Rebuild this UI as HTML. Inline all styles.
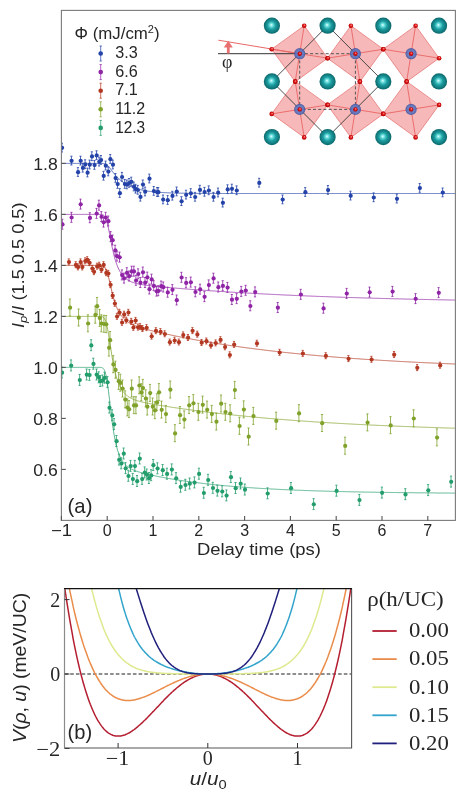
<!DOCTYPE html><html><head><meta charset="utf-8"><style>html,body{margin:0;padding:0;background:#fff;width:462px;height:797px;overflow:hidden;position:relative}</style></head><body><svg width="462" height="797" viewBox="0 0 462 797" style="position:absolute;left:0;top:0;will-change:transform"><defs><clipPath id="ca"><rect x="61.4" y="10.4" width="394" height="510"/></clipPath><clipPath id="cb"><rect x="64.5" y="588.6" width="287.1" height="159.4"/></clipPath><radialGradient id="tg" cx="0.5" cy="0.5" r="0.5" fx="0.46" fy="0.45"><stop offset="0" stop-color="#e8ffff"/><stop offset="0.2" stop-color="#6fe0e0"/><stop offset="0.5" stop-color="#1d9fa2"/><stop offset="1" stop-color="#0b676b"/></radialGradient><radialGradient id="og" cx="0.5" cy="0.5" r="0.5" fx="0.6" fy="0.35"><stop offset="0" stop-color="#ff9a9a"/><stop offset="0.5" stop-color="#e01818"/><stop offset="1" stop-color="#b00000"/></radialGradient><radialGradient id="bg" cx="0.5" cy="0.5" r="0.5"><stop offset="0" stop-color="#6a86d0"/><stop offset="0.7" stop-color="#5470bf"/><stop offset="1" stop-color="#3e509a"/></radialGradient></defs><g clip-path="url(#ca)"><polyline points="61.4,163.4 61.9,163.4 62.3,163.4 62.8,163.4 63.2,163.4 63.7,163.4 64.1,163.4 64.6,163.4 65.1,163.4 65.5,163.4 66.0,163.4 66.4,163.4 66.9,163.4 67.4,163.4 67.8,163.4 68.3,163.4 68.7,163.4 69.2,163.4 69.6,163.4 70.1,163.4 70.6,163.4 71.0,163.4 71.5,163.4 71.9,163.4 72.4,163.4 72.8,163.4 73.3,163.4 73.8,163.4 74.2,163.4 74.7,163.4 75.1,163.4 75.6,163.4 76.1,163.4 76.5,163.4 77.0,163.4 77.4,163.4 77.9,163.4 78.3,163.4 78.8,163.4 79.3,163.4 79.7,163.4 80.2,163.4 80.6,163.4 81.1,163.4 81.6,163.4 82.0,163.4 82.5,163.4 82.9,163.4 83.4,163.4 83.8,163.4 84.3,163.4 84.8,163.4 85.2,163.4 85.7,163.4 86.1,163.4 86.6,163.4 87.0,163.4 87.5,163.4 88.0,163.4 88.4,163.4 88.9,163.4 89.3,163.4 89.8,163.4 90.3,163.4 90.7,163.4 91.2,163.4 91.6,163.4 92.1,163.4 92.5,163.4 93.0,163.4 93.5,163.4 93.9,163.4 94.4,163.4 94.8,163.4 95.3,163.4 95.8,163.4 96.2,163.4 96.7,163.4 97.1,163.4 97.6,163.4 98.0,163.4 98.5,163.4 99.0,163.4 99.4,163.4 99.9,163.4 100.3,163.4 100.8,163.4 101.2,163.4 101.7,163.4 102.2,163.4 102.6,163.5 103.1,163.5 103.5,163.6 104.0,163.7 104.5,163.8 104.9,163.9 105.4,164.1 105.8,164.3 106.3,164.6 106.7,164.9 107.2,165.2 107.7,165.6 108.1,166.1 108.6,166.5 109.0,167.1 109.5,167.6 109.9,168.2 110.4,168.8 110.9,169.4 111.3,170.0 111.8,170.6 112.2,171.3 112.7,171.9 113.2,172.5 113.6,173.0 114.1,173.6 114.5,174.2 115.0,174.7 115.4,175.3 115.9,175.8 116.4,176.3 116.8,176.8 117.3,177.2 117.7,177.7 118.2,178.1 118.7,178.6 119.1,179.0 119.6,179.4 120.0,179.8 120.5,180.2 120.9,180.5 121.4,180.9 121.9,181.3 122.3,181.6 122.8,181.9 123.2,182.3 123.7,182.6 124.1,182.9 124.6,183.2 125.1,183.5 125.5,183.8 126.0,184.0 126.4,184.3 126.9,184.6 127.4,184.8 127.8,185.1 128.3,185.3 128.7,185.5 129.2,185.8 129.6,186.0 130.1,186.2 130.6,186.4 131.0,186.6 131.5,186.8 131.9,187.0 132.4,187.2 132.8,187.3 133.3,187.5 133.8,187.7 134.2,187.8 134.7,188.0 135.1,188.2 135.6,188.3 136.1,188.4 136.5,188.6 137.0,188.7 137.4,188.9 137.9,189.0 138.3,189.1 138.8,189.2 139.3,189.4 139.7,189.5 140.2,189.6 140.6,189.7 141.1,189.8 141.5,189.9 142.0,190.0 142.5,190.1 142.9,190.2 143.4,190.3 143.8,190.4 144.3,190.5 144.8,190.6 145.2,190.6 145.7,190.7 146.1,190.8 146.6,190.9 147.0,191.0 147.5,191.0 148.0,191.1 148.4,191.2 148.9,191.2 149.3,191.3 149.8,191.4 150.3,191.4 150.7,191.5 151.2,191.5 151.6,191.6 152.1,191.6 152.5,191.7 153.0,191.7 153.5,191.8 153.9,191.8 154.4,191.9 154.8,191.9 155.3,192.0 155.7,192.0 156.2,192.1 156.7,192.1 157.1,192.1 157.6,192.2 158.0,192.2 158.5,192.2 159.0,192.3 159.4,192.3 159.9,192.3 160.3,192.4 160.8,192.4 161.2,192.4 161.7,192.5 162.2,192.5 162.6,192.5 163.1,192.6 163.5,192.6 164.0,192.6 164.4,192.6 164.9,192.7 165.4,192.7 165.8,192.7 166.3,192.7 166.7,192.7 167.2,192.8 167.7,192.8 168.1,192.8 168.6,192.8 169.0,192.8 169.5,192.9 169.9,192.9 170.4,192.9 170.9,192.9 171.3,192.9 171.8,192.9 172.2,193.0 172.7,193.0 173.2,193.0 173.6,193.0 174.1,193.0 174.5,193.0 175.0,193.0 175.4,193.1 175.9,193.1 176.4,193.1 176.8,193.1 177.3,193.1 177.7,193.1 178.2,193.1 178.6,193.1 179.1,193.1 179.6,193.2 180.0,193.2 180.5,193.2 180.9,193.2 181.4,193.2 181.9,193.2 182.3,193.2 182.8,193.2 183.2,193.2 183.7,193.2 184.1,193.2 184.6,193.2 185.1,193.3 185.5,193.3 186.0,193.3 186.4,193.3 186.9,193.3 187.3,193.3 187.8,193.3 188.3,193.3 188.7,193.3 189.2,193.3 189.6,193.3 190.1,193.3 190.6,193.3 191.0,193.3 191.5,193.3 191.9,193.3 192.4,193.3 192.8,193.3 193.3,193.3 193.8,193.4 194.2,193.4 194.7,193.4 195.1,193.4 195.6,193.4 196.1,193.4 196.5,193.4 197.0,193.4 197.4,193.4 197.9,193.4 198.3,193.4 198.8,193.4 199.3,193.4 199.7,193.4 200.2,193.4 200.6,193.4 201.1,193.4 201.5,193.4 202.0,193.4 202.5,193.4 202.9,193.4 203.4,193.4 203.8,193.4 204.3,193.4 204.8,193.4 205.2,193.4 205.7,193.4 206.1,193.4 206.6,193.4 207.0,193.4 207.5,193.4 208.0,193.4 208.4,193.4 208.9,193.4 209.3,193.4 209.8,193.4 210.2,193.4 210.7,193.4 211.2,193.4 211.6,193.4 212.1,193.4 212.5,193.4 213.0,193.4 213.5,193.4 213.9,193.5 214.4,193.5 214.8,193.5 215.3,193.5 215.7,193.5 216.2,193.5 216.7,193.5 217.1,193.5 217.6,193.5 218.0,193.5 218.5,193.5 219.0,193.5 219.4,193.5 219.9,193.5 220.3,193.5 220.8,193.5 221.2,193.5 221.7,193.5 222.2,193.5 222.6,193.5 223.1,193.5 223.5,193.5 224.0,193.5 224.4,193.5 224.9,193.5 225.4,193.5 225.8,193.5 226.3,193.5 226.7,193.5 227.2,193.5 227.7,193.5 228.1,193.5 228.6,193.5 229.0,193.5 229.5,193.5 229.9,193.5 230.4,193.5 230.9,193.5 231.3,193.5 231.8,193.5 232.2,193.5 232.7,193.5 233.2,193.5 233.6,193.5 234.1,193.5 234.5,193.5 235.0,193.5 235.4,193.5 235.9,193.5 236.4,193.5 236.8,193.5 237.3,193.5 237.7,193.5 238.2,193.5 238.6,193.5 239.1,193.5 239.6,193.5 240.0,193.5 240.5,193.5 240.9,193.5 241.4,193.5 241.9,193.5 242.3,193.5 242.8,193.5 243.2,193.5 243.7,193.5 244.1,193.5 244.6,193.5 245.1,193.5 245.5,193.5 246.0,193.5 246.4,193.5 246.9,193.5 247.3,193.5 247.8,193.5 248.3,193.5 248.7,193.5 249.2,193.5 249.6,193.5 250.1,193.5 250.6,193.5 251.0,193.5 251.5,193.5 251.9,193.5 252.4,193.5 252.8,193.5 253.3,193.5 253.8,193.5 254.2,193.5 254.7,193.5 255.1,193.5 255.6,193.5 256.0,193.5 256.5,193.5 257.0,193.5 257.4,193.5 257.9,193.5 258.3,193.5 258.8,193.5 259.3,193.5 259.7,193.5 260.2,193.5 260.6,193.5 261.1,193.5 261.5,193.5 262.0,193.5 262.5,193.5 262.9,193.5 263.4,193.5 263.8,193.5 264.3,193.5 264.8,193.5 265.2,193.5 265.7,193.5 266.1,193.5 266.6,193.5 267.0,193.5 267.5,193.5 268.0,193.5 268.4,193.5 268.9,193.5 269.3,193.5 269.8,193.5 270.2,193.5 270.7,193.5 271.2,193.5 271.6,193.5 272.1,193.5 272.5,193.5 273.0,193.5 273.5,193.5 273.9,193.5 274.4,193.5 274.8,193.5 275.3,193.5 275.7,193.5 276.2,193.5 276.7,193.5 277.1,193.5 277.6,193.5 278.0,193.5 278.5,193.5 278.9,193.5 279.4,193.5 279.9,193.5 280.3,193.5 280.8,193.5 281.2,193.5 281.7,193.5 282.2,193.5 282.6,193.5 283.1,193.5 283.5,193.5 284.0,193.5 284.4,193.5 284.9,193.5 285.4,193.5 285.8,193.5 286.3,193.5 286.7,193.5 287.2,193.5 287.7,193.5 288.1,193.5 288.6,193.5 289.0,193.5 289.5,193.5 289.9,193.5 290.4,193.5 290.9,193.5 291.3,193.5 291.8,193.5 292.2,193.5 292.7,193.5 293.1,193.5 293.6,193.5 294.1,193.5 294.5,193.5 295.0,193.5 295.4,193.5 295.9,193.5 296.4,193.5 296.8,193.5 297.3,193.5 297.7,193.5 298.2,193.5 298.6,193.5 299.1,193.5 299.6,193.5 300.0,193.5 300.5,193.5 300.9,193.5 301.4,193.5 301.8,193.5 302.3,193.5 302.8,193.5 303.2,193.5 303.7,193.5 304.1,193.5 304.6,193.5 305.1,193.5 305.5,193.5 306.0,193.5 306.4,193.5 306.9,193.5 307.3,193.5 307.8,193.5 308.3,193.5 308.7,193.5 309.2,193.5 309.6,193.5 310.1,193.5 310.6,193.5 311.0,193.5 311.5,193.5 311.9,193.5 312.4,193.5 312.8,193.5 313.3,193.5 313.8,193.5 314.2,193.5 314.7,193.5 315.1,193.5 315.6,193.5 316.0,193.5 316.5,193.5 317.0,193.5 317.4,193.5 317.9,193.5 318.3,193.5 318.8,193.5 319.3,193.5 319.7,193.5 320.2,193.5 320.6,193.5 321.1,193.5 321.5,193.5 322.0,193.5 322.5,193.5 322.9,193.5 323.4,193.5 323.8,193.5 324.3,193.5 324.7,193.5 325.2,193.5 325.7,193.5 326.1,193.5 326.6,193.5 327.0,193.5 327.5,193.5 328.0,193.5 328.4,193.5 328.9,193.5 329.3,193.5 329.8,193.5 330.2,193.5 330.7,193.5 331.2,193.5 331.6,193.5 332.1,193.5 332.5,193.5 333.0,193.5 333.5,193.5 333.9,193.5 334.4,193.5 334.8,193.5 335.3,193.5 335.7,193.5 336.2,193.5 336.7,193.5 337.1,193.5 337.6,193.5 338.0,193.5 338.5,193.5 338.9,193.5 339.4,193.5 339.9,193.5 340.3,193.5 340.8,193.5 341.2,193.5 341.7,193.5 342.2,193.5 342.6,193.5 343.1,193.5 343.5,193.5 344.0,193.5 344.4,193.5 344.9,193.5 345.4,193.5 345.8,193.5 346.3,193.5 346.7,193.5 347.2,193.5 347.6,193.5 348.1,193.5 348.6,193.5 349.0,193.5 349.5,193.5 349.9,193.5 350.4,193.5 350.9,193.5 351.3,193.5 351.8,193.5 352.2,193.5 352.7,193.5 353.1,193.5 353.6,193.5 354.1,193.5 354.5,193.5 355.0,193.5 355.4,193.5 355.9,193.5 356.4,193.5 356.8,193.5 357.3,193.5 357.7,193.5 358.2,193.5 358.6,193.5 359.1,193.5 359.6,193.5 360.0,193.5 360.5,193.5 360.9,193.5 361.4,193.5 361.8,193.5 362.3,193.5 362.8,193.5 363.2,193.5 363.7,193.5 364.1,193.5 364.6,193.5 365.1,193.5 365.5,193.5 366.0,193.5 366.4,193.5 366.9,193.5 367.3,193.5 367.8,193.5 368.3,193.5 368.7,193.5 369.2,193.5 369.6,193.5 370.1,193.5 370.5,193.5 371.0,193.5 371.5,193.5 371.9,193.5 372.4,193.5 372.8,193.5 373.3,193.5 373.8,193.5 374.2,193.5 374.7,193.5 375.1,193.5 375.6,193.5 376.0,193.5 376.5,193.5 377.0,193.5 377.4,193.5 377.9,193.5 378.3,193.5 378.8,193.5 379.3,193.5 379.7,193.5 380.2,193.5 380.6,193.5 381.1,193.5 381.5,193.5 382.0,193.5 382.5,193.5 382.9,193.5 383.4,193.5 383.8,193.5 384.3,193.5 384.7,193.5 385.2,193.5 385.7,193.5 386.1,193.5 386.6,193.5 387.0,193.5 387.5,193.5 388.0,193.5 388.4,193.5 388.9,193.5 389.3,193.5 389.8,193.5 390.2,193.5 390.7,193.5 391.2,193.5 391.6,193.5 392.1,193.5 392.5,193.5 393.0,193.5 393.4,193.5 393.9,193.5 394.4,193.5 394.8,193.5 395.3,193.5 395.7,193.5 396.2,193.5 396.7,193.5 397.1,193.5 397.6,193.5 398.0,193.5 398.5,193.5 398.9,193.5 399.4,193.5 399.9,193.5 400.3,193.5 400.8,193.5 401.2,193.5 401.7,193.5 402.2,193.5 402.6,193.5 403.1,193.5 403.5,193.5 404.0,193.5 404.4,193.5 404.9,193.5 405.4,193.5 405.8,193.5 406.3,193.5 406.7,193.5 407.2,193.5 407.6,193.5 408.1,193.5 408.6,193.5 409.0,193.5 409.5,193.5 409.9,193.5 410.4,193.5 410.9,193.5 411.3,193.5 411.8,193.5 412.2,193.5 412.7,193.5 413.1,193.5 413.6,193.5 414.1,193.5 414.5,193.5 415.0,193.5 415.4,193.5 415.9,193.5 416.3,193.5 416.8,193.5 417.3,193.5 417.7,193.5 418.2,193.5 418.6,193.5 419.1,193.5 419.6,193.5 420.0,193.5 420.5,193.5 420.9,193.5 421.4,193.5 421.8,193.5 422.3,193.5 422.8,193.5 423.2,193.5 423.7,193.5 424.1,193.5 424.6,193.5 425.1,193.5 425.5,193.5 426.0,193.5 426.4,193.5 426.9,193.5 427.3,193.5 427.8,193.5 428.3,193.5 428.7,193.5 429.2,193.5 429.6,193.5 430.1,193.5 430.5,193.5 431.0,193.5 431.5,193.5 431.9,193.5 432.4,193.5 432.8,193.5 433.3,193.5 433.8,193.5 434.2,193.5 434.7,193.5 435.1,193.5 435.6,193.5 436.0,193.5 436.5,193.5 437.0,193.5 437.4,193.5 437.9,193.5 438.3,193.5 438.8,193.5 439.2,193.5 439.7,193.5 440.2,193.5 440.6,193.5 441.1,193.5 441.5,193.5 442.0,193.5 442.5,193.5 442.9,193.5 443.4,193.5 443.8,193.5 444.3,193.5 444.7,193.5 445.2,193.5 445.7,193.5 446.1,193.5 446.6,193.5 447.0,193.5 447.5,193.5 448.0,193.5 448.4,193.5 448.9,193.5 449.3,193.5 449.8,193.5 450.2,193.5 450.7,193.5 451.2,193.5 451.6,193.5 452.1,193.5 452.5,193.5 453.0,193.5 453.4,193.5 453.9,193.5 454.4,193.5 454.8,193.5 455.3,193.5 455.7,193.5" fill="none" stroke="#2443a8" stroke-width="1" stroke-opacity="0.75"/><polyline points="61.4,214.4 61.9,214.4 62.3,214.4 62.8,214.4 63.2,214.4 63.7,214.4 64.1,214.4 64.6,214.4 65.1,214.4 65.5,214.4 66.0,214.4 66.4,214.4 66.9,214.4 67.4,214.4 67.8,214.4 68.3,214.4 68.7,214.4 69.2,214.4 69.6,214.4 70.1,214.4 70.6,214.4 71.0,214.4 71.5,214.4 71.9,214.4 72.4,214.4 72.8,214.4 73.3,214.4 73.8,214.4 74.2,214.4 74.7,214.4 75.1,214.4 75.6,214.4 76.1,214.4 76.5,214.4 77.0,214.4 77.4,214.4 77.9,214.4 78.3,214.4 78.8,214.4 79.3,214.4 79.7,214.4 80.2,214.4 80.6,214.4 81.1,214.4 81.6,214.4 82.0,214.4 82.5,214.4 82.9,214.4 83.4,214.4 83.8,214.4 84.3,214.4 84.8,214.4 85.2,214.4 85.7,214.4 86.1,214.4 86.6,214.4 87.0,214.4 87.5,214.4 88.0,214.4 88.4,214.4 88.9,214.4 89.3,214.4 89.8,214.4 90.3,214.4 90.7,214.4 91.2,214.4 91.6,214.4 92.1,214.4 92.5,214.4 93.0,214.4 93.5,214.4 93.9,214.4 94.4,214.4 94.8,214.4 95.3,214.4 95.8,214.4 96.2,214.4 96.7,214.4 97.1,214.4 97.6,214.4 98.0,214.4 98.5,214.4 99.0,214.4 99.4,214.4 99.9,214.4 100.3,214.4 100.8,214.4 101.2,214.4 101.7,214.5 102.2,214.6 102.6,214.7 103.1,214.9 103.5,215.2 104.0,215.6 104.5,216.1 104.9,216.8 105.4,217.6 105.8,218.6 106.3,219.8 106.7,221.2 107.2,222.8 107.7,224.6 108.1,226.6 108.6,228.7 109.0,231.0 109.5,233.3 109.9,235.7 110.4,238.1 110.9,240.5 111.3,242.9 111.8,245.2 112.2,247.5 112.7,249.7 113.2,251.7 113.6,253.7 114.1,255.6 114.5,257.3 115.0,259.0 115.4,260.5 115.9,262.0 116.4,263.3 116.8,264.6 117.3,265.8 117.7,266.9 118.2,268.0 118.7,269.0 119.1,269.9 119.6,270.8 120.0,271.6 120.5,272.4 120.9,273.1 121.4,273.8 121.9,274.4 122.3,275.0 122.8,275.6 123.2,276.1 123.7,276.6 124.1,277.1 124.6,277.5 125.1,277.9 125.5,278.3 126.0,278.7 126.4,279.0 126.9,279.4 127.4,279.7 127.8,280.0 128.3,280.3 128.7,280.5 129.2,280.8 129.6,281.0 130.1,281.2 130.6,281.5 131.0,281.7 131.5,281.9 131.9,282.0 132.4,282.2 132.8,282.4 133.3,282.5 133.8,282.7 134.2,282.8 134.7,283.0 135.1,283.1 135.6,283.2 136.1,283.4 136.5,283.5 137.0,283.6 137.4,283.7 137.9,283.8 138.3,283.9 138.8,284.0 139.3,284.1 139.7,284.2 140.2,284.3 140.6,284.4 141.1,284.4 141.5,284.5 142.0,284.6 142.5,284.7 142.9,284.7 143.4,284.8 143.8,284.9 144.3,285.0 144.8,285.0 145.2,285.1 145.7,285.1 146.1,285.2 146.6,285.3 147.0,285.3 147.5,285.4 148.0,285.4 148.4,285.5 148.9,285.6 149.3,285.6 149.8,285.7 150.3,285.7 150.7,285.8 151.2,285.8 151.6,285.9 152.1,285.9 152.5,286.0 153.0,286.0 153.5,286.1 153.9,286.1 154.4,286.2 154.8,286.2 155.3,286.3 155.7,286.3 156.2,286.4 156.7,286.4 157.1,286.4 157.6,286.5 158.0,286.5 158.5,286.6 159.0,286.6 159.4,286.7 159.9,286.7 160.3,286.8 160.8,286.8 161.2,286.8 161.7,286.9 162.2,286.9 162.6,287.0 163.1,287.0 163.5,287.1 164.0,287.1 164.4,287.1 164.9,287.2 165.4,287.2 165.8,287.3 166.3,287.3 166.7,287.4 167.2,287.4 167.7,287.4 168.1,287.5 168.6,287.5 169.0,287.6 169.5,287.6 169.9,287.6 170.4,287.7 170.9,287.7 171.3,287.8 171.8,287.8 172.2,287.8 172.7,287.9 173.2,287.9 173.6,287.9 174.1,288.0 174.5,288.0 175.0,288.1 175.4,288.1 175.9,288.1 176.4,288.2 176.8,288.2 177.3,288.3 177.7,288.3 178.2,288.3 178.6,288.4 179.1,288.4 179.6,288.4 180.0,288.5 180.5,288.5 180.9,288.6 181.4,288.6 181.9,288.6 182.3,288.7 182.8,288.7 183.2,288.7 183.7,288.8 184.1,288.8 184.6,288.9 185.1,288.9 185.5,288.9 186.0,289.0 186.4,289.0 186.9,289.0 187.3,289.1 187.8,289.1 188.3,289.1 188.7,289.2 189.2,289.2 189.6,289.2 190.1,289.3 190.6,289.3 191.0,289.4 191.5,289.4 191.9,289.4 192.4,289.5 192.8,289.5 193.3,289.5 193.8,289.6 194.2,289.6 194.7,289.6 195.1,289.7 195.6,289.7 196.1,289.7 196.5,289.8 197.0,289.8 197.4,289.8 197.9,289.9 198.3,289.9 198.8,289.9 199.3,290.0 199.7,290.0 200.2,290.0 200.6,290.1 201.1,290.1 201.5,290.1 202.0,290.2 202.5,290.2 202.9,290.2 203.4,290.3 203.8,290.3 204.3,290.3 204.8,290.4 205.2,290.4 205.7,290.4 206.1,290.5 206.6,290.5 207.0,290.5 207.5,290.6 208.0,290.6 208.4,290.6 208.9,290.7 209.3,290.7 209.8,290.7 210.2,290.8 210.7,290.8 211.2,290.8 211.6,290.8 212.1,290.9 212.5,290.9 213.0,290.9 213.5,291.0 213.9,291.0 214.4,291.0 214.8,291.1 215.3,291.1 215.7,291.1 216.2,291.2 216.7,291.2 217.1,291.2 217.6,291.2 218.0,291.3 218.5,291.3 219.0,291.3 219.4,291.4 219.9,291.4 220.3,291.4 220.8,291.5 221.2,291.5 221.7,291.5 222.2,291.5 222.6,291.6 223.1,291.6 223.5,291.6 224.0,291.7 224.4,291.7 224.9,291.7 225.4,291.8 225.8,291.8 226.3,291.8 226.7,291.8 227.2,291.9 227.7,291.9 228.1,291.9 228.6,292.0 229.0,292.0 229.5,292.0 229.9,292.0 230.4,292.1 230.9,292.1 231.3,292.1 231.8,292.2 232.2,292.2 232.7,292.2 233.2,292.2 233.6,292.3 234.1,292.3 234.5,292.3 235.0,292.3 235.4,292.4 235.9,292.4 236.4,292.4 236.8,292.5 237.3,292.5 237.7,292.5 238.2,292.5 238.6,292.6 239.1,292.6 239.6,292.6 240.0,292.6 240.5,292.7 240.9,292.7 241.4,292.7 241.9,292.8 242.3,292.8 242.8,292.8 243.2,292.8 243.7,292.9 244.1,292.9 244.6,292.9 245.1,292.9 245.5,293.0 246.0,293.0 246.4,293.0 246.9,293.0 247.3,293.1 247.8,293.1 248.3,293.1 248.7,293.1 249.2,293.2 249.6,293.2 250.1,293.2 250.6,293.2 251.0,293.3 251.5,293.3 251.9,293.3 252.4,293.4 252.8,293.4 253.3,293.4 253.8,293.4 254.2,293.5 254.7,293.5 255.1,293.5 255.6,293.5 256.0,293.5 256.5,293.6 257.0,293.6 257.4,293.6 257.9,293.6 258.3,293.7 258.8,293.7 259.3,293.7 259.7,293.7 260.2,293.8 260.6,293.8 261.1,293.8 261.5,293.8 262.0,293.9 262.5,293.9 262.9,293.9 263.4,293.9 263.8,294.0 264.3,294.0 264.8,294.0 265.2,294.0 265.7,294.1 266.1,294.1 266.6,294.1 267.0,294.1 267.5,294.1 268.0,294.2 268.4,294.2 268.9,294.2 269.3,294.2 269.8,294.3 270.2,294.3 270.7,294.3 271.2,294.3 271.6,294.4 272.1,294.4 272.5,294.4 273.0,294.4 273.5,294.4 273.9,294.5 274.4,294.5 274.8,294.5 275.3,294.5 275.7,294.6 276.2,294.6 276.7,294.6 277.1,294.6 277.6,294.6 278.0,294.7 278.5,294.7 278.9,294.7 279.4,294.7 279.9,294.7 280.3,294.8 280.8,294.8 281.2,294.8 281.7,294.8 282.2,294.9 282.6,294.9 283.1,294.9 283.5,294.9 284.0,294.9 284.4,295.0 284.9,295.0 285.4,295.0 285.8,295.0 286.3,295.0 286.7,295.1 287.2,295.1 287.7,295.1 288.1,295.1 288.6,295.2 289.0,295.2 289.5,295.2 289.9,295.2 290.4,295.2 290.9,295.3 291.3,295.3 291.8,295.3 292.2,295.3 292.7,295.3 293.1,295.4 293.6,295.4 294.1,295.4 294.5,295.4 295.0,295.4 295.4,295.5 295.9,295.5 296.4,295.5 296.8,295.5 297.3,295.5 297.7,295.6 298.2,295.6 298.6,295.6 299.1,295.6 299.6,295.6 300.0,295.7 300.5,295.7 300.9,295.7 301.4,295.7 301.8,295.7 302.3,295.7 302.8,295.8 303.2,295.8 303.7,295.8 304.1,295.8 304.6,295.8 305.1,295.9 305.5,295.9 306.0,295.9 306.4,295.9 306.9,295.9 307.3,296.0 307.8,296.0 308.3,296.0 308.7,296.0 309.2,296.0 309.6,296.0 310.1,296.1 310.6,296.1 311.0,296.1 311.5,296.1 311.9,296.1 312.4,296.2 312.8,296.2 313.3,296.2 313.8,296.2 314.2,296.2 314.7,296.2 315.1,296.3 315.6,296.3 316.0,296.3 316.5,296.3 317.0,296.3 317.4,296.4 317.9,296.4 318.3,296.4 318.8,296.4 319.3,296.4 319.7,296.4 320.2,296.5 320.6,296.5 321.1,296.5 321.5,296.5 322.0,296.5 322.5,296.5 322.9,296.6 323.4,296.6 323.8,296.6 324.3,296.6 324.7,296.6 325.2,296.6 325.7,296.7 326.1,296.7 326.6,296.7 327.0,296.7 327.5,296.7 328.0,296.7 328.4,296.8 328.9,296.8 329.3,296.8 329.8,296.8 330.2,296.8 330.7,296.8 331.2,296.9 331.6,296.9 332.1,296.9 332.5,296.9 333.0,296.9 333.5,296.9 333.9,297.0 334.4,297.0 334.8,297.0 335.3,297.0 335.7,297.0 336.2,297.0 336.7,297.1 337.1,297.1 337.6,297.1 338.0,297.1 338.5,297.1 338.9,297.1 339.4,297.1 339.9,297.2 340.3,297.2 340.8,297.2 341.2,297.2 341.7,297.2 342.2,297.2 342.6,297.3 343.1,297.3 343.5,297.3 344.0,297.3 344.4,297.3 344.9,297.3 345.4,297.3 345.8,297.4 346.3,297.4 346.7,297.4 347.2,297.4 347.6,297.4 348.1,297.4 348.6,297.5 349.0,297.5 349.5,297.5 349.9,297.5 350.4,297.5 350.9,297.5 351.3,297.5 351.8,297.6 352.2,297.6 352.7,297.6 353.1,297.6 353.6,297.6 354.1,297.6 354.5,297.6 355.0,297.7 355.4,297.7 355.9,297.7 356.4,297.7 356.8,297.7 357.3,297.7 357.7,297.7 358.2,297.8 358.6,297.8 359.1,297.8 359.6,297.8 360.0,297.8 360.5,297.8 360.9,297.8 361.4,297.9 361.8,297.9 362.3,297.9 362.8,297.9 363.2,297.9 363.7,297.9 364.1,297.9 364.6,298.0 365.1,298.0 365.5,298.0 366.0,298.0 366.4,298.0 366.9,298.0 367.3,298.0 367.8,298.0 368.3,298.1 368.7,298.1 369.2,298.1 369.6,298.1 370.1,298.1 370.5,298.1 371.0,298.1 371.5,298.2 371.9,298.2 372.4,298.2 372.8,298.2 373.3,298.2 373.8,298.2 374.2,298.2 374.7,298.2 375.1,298.3 375.6,298.3 376.0,298.3 376.5,298.3 377.0,298.3 377.4,298.3 377.9,298.3 378.3,298.3 378.8,298.4 379.3,298.4 379.7,298.4 380.2,298.4 380.6,298.4 381.1,298.4 381.5,298.4 382.0,298.4 382.5,298.5 382.9,298.5 383.4,298.5 383.8,298.5 384.3,298.5 384.7,298.5 385.2,298.5 385.7,298.5 386.1,298.6 386.6,298.6 387.0,298.6 387.5,298.6 388.0,298.6 388.4,298.6 388.9,298.6 389.3,298.6 389.8,298.7 390.2,298.7 390.7,298.7 391.2,298.7 391.6,298.7 392.1,298.7 392.5,298.7 393.0,298.7 393.4,298.7 393.9,298.8 394.4,298.8 394.8,298.8 395.3,298.8 395.7,298.8 396.2,298.8 396.7,298.8 397.1,298.8 397.6,298.8 398.0,298.9 398.5,298.9 398.9,298.9 399.4,298.9 399.9,298.9 400.3,298.9 400.8,298.9 401.2,298.9 401.7,298.9 402.2,299.0 402.6,299.0 403.1,299.0 403.5,299.0 404.0,299.0 404.4,299.0 404.9,299.0 405.4,299.0 405.8,299.0 406.3,299.1 406.7,299.1 407.2,299.1 407.6,299.1 408.1,299.1 408.6,299.1 409.0,299.1 409.5,299.1 409.9,299.1 410.4,299.2 410.9,299.2 411.3,299.2 411.8,299.2 412.2,299.2 412.7,299.2 413.1,299.2 413.6,299.2 414.1,299.2 414.5,299.2 415.0,299.3 415.4,299.3 415.9,299.3 416.3,299.3 416.8,299.3 417.3,299.3 417.7,299.3 418.2,299.3 418.6,299.3 419.1,299.4 419.6,299.4 420.0,299.4 420.5,299.4 420.9,299.4 421.4,299.4 421.8,299.4 422.3,299.4 422.8,299.4 423.2,299.4 423.7,299.5 424.1,299.5 424.6,299.5 425.1,299.5 425.5,299.5 426.0,299.5 426.4,299.5 426.9,299.5 427.3,299.5 427.8,299.5 428.3,299.5 428.7,299.6 429.2,299.6 429.6,299.6 430.1,299.6 430.5,299.6 431.0,299.6 431.5,299.6 431.9,299.6 432.4,299.6 432.8,299.6 433.3,299.7 433.8,299.7 434.2,299.7 434.7,299.7 435.1,299.7 435.6,299.7 436.0,299.7 436.5,299.7 437.0,299.7 437.4,299.7 437.9,299.7 438.3,299.8 438.8,299.8 439.2,299.8 439.7,299.8 440.2,299.8 440.6,299.8 441.1,299.8 441.5,299.8 442.0,299.8 442.5,299.8 442.9,299.8 443.4,299.9 443.8,299.9 444.3,299.9 444.7,299.9 445.2,299.9 445.7,299.9 446.1,299.9 446.6,299.9 447.0,299.9 447.5,299.9 448.0,299.9 448.4,299.9 448.9,300.0 449.3,300.0 449.8,300.0 450.2,300.0 450.7,300.0 451.2,300.0 451.6,300.0 452.1,300.0 452.5,300.0 453.0,300.0 453.4,300.0 453.9,300.1 454.4,300.1 454.8,300.1 455.3,300.1 455.7,300.1" fill="none" stroke="#9024a6" stroke-width="1" stroke-opacity="0.75"/><polyline points="61.4,265.4 61.9,265.4 62.3,265.4 62.8,265.4 63.2,265.4 63.7,265.4 64.1,265.4 64.6,265.4 65.1,265.4 65.5,265.4 66.0,265.4 66.4,265.4 66.9,265.4 67.4,265.4 67.8,265.4 68.3,265.4 68.7,265.4 69.2,265.4 69.6,265.4 70.1,265.4 70.6,265.4 71.0,265.4 71.5,265.4 71.9,265.4 72.4,265.4 72.8,265.4 73.3,265.4 73.8,265.4 74.2,265.4 74.7,265.4 75.1,265.4 75.6,265.4 76.1,265.4 76.5,265.4 77.0,265.4 77.4,265.4 77.9,265.4 78.3,265.4 78.8,265.4 79.3,265.4 79.7,265.4 80.2,265.4 80.6,265.4 81.1,265.4 81.6,265.4 82.0,265.4 82.5,265.4 82.9,265.4 83.4,265.4 83.8,265.4 84.3,265.4 84.8,265.4 85.2,265.4 85.7,265.4 86.1,265.4 86.6,265.4 87.0,265.4 87.5,265.4 88.0,265.4 88.4,265.4 88.9,265.4 89.3,265.4 89.8,265.4 90.3,265.4 90.7,265.4 91.2,265.4 91.6,265.4 92.1,265.4 92.5,265.4 93.0,265.4 93.5,265.4 93.9,265.4 94.4,265.4 94.8,265.4 95.3,265.4 95.8,265.4 96.2,265.4 96.7,265.4 97.1,265.4 97.6,265.4 98.0,265.4 98.5,265.4 99.0,265.4 99.4,265.4 99.9,265.4 100.3,265.4 100.8,265.4 101.2,265.4 101.7,265.5 102.2,265.6 102.6,265.7 103.1,265.8 103.5,266.1 104.0,266.4 104.5,266.8 104.9,267.4 105.4,268.1 105.8,268.9 106.3,269.9 106.7,271.1 107.2,272.4 107.7,273.9 108.1,275.5 108.6,277.3 109.0,279.1 109.5,281.1 109.9,283.1 110.4,285.1 110.9,287.1 111.3,289.1 111.8,291.1 112.2,293.0 112.7,294.8 113.2,296.5 113.6,298.2 114.1,299.8 114.5,301.3 115.0,302.7 115.4,304.0 115.9,305.3 116.4,306.5 116.8,307.6 117.3,308.6 117.7,309.6 118.2,310.5 118.7,311.4 119.1,312.3 119.6,313.0 120.0,313.8 120.5,314.5 120.9,315.2 121.4,315.8 121.9,316.4 122.3,317.0 122.8,317.5 123.2,318.0 123.7,318.5 124.1,318.9 124.6,319.4 125.1,319.8 125.5,320.2 126.0,320.6 126.4,321.0 126.9,321.3 127.4,321.6 127.8,322.0 128.3,322.3 128.7,322.6 129.2,322.9 129.6,323.1 130.1,323.4 130.6,323.6 131.0,323.9 131.5,324.1 131.9,324.4 132.4,324.6 132.8,324.8 133.3,325.0 133.8,325.2 134.2,325.4 134.7,325.6 135.1,325.8 135.6,325.9 136.1,326.1 136.5,326.3 137.0,326.5 137.4,326.6 137.9,326.8 138.3,327.0 138.8,327.1 139.3,327.3 139.7,327.4 140.2,327.6 140.6,327.7 141.1,327.8 141.5,328.0 142.0,328.1 142.5,328.3 142.9,328.4 143.4,328.5 143.8,328.7 144.3,328.8 144.8,328.9 145.2,329.0 145.7,329.2 146.1,329.3 146.6,329.4 147.0,329.5 147.5,329.7 148.0,329.8 148.4,329.9 148.9,330.0 149.3,330.1 149.8,330.2 150.3,330.4 150.7,330.5 151.2,330.6 151.6,330.7 152.1,330.8 152.5,330.9 153.0,331.0 153.5,331.1 153.9,331.3 154.4,331.4 154.8,331.5 155.3,331.6 155.7,331.7 156.2,331.8 156.7,331.9 157.1,332.0 157.6,332.1 158.0,332.2 158.5,332.3 159.0,332.4 159.4,332.5 159.9,332.6 160.3,332.7 160.8,332.8 161.2,333.0 161.7,333.1 162.2,333.2 162.6,333.3 163.1,333.4 163.5,333.5 164.0,333.6 164.4,333.7 164.9,333.8 165.4,333.9 165.8,334.0 166.3,334.1 166.7,334.2 167.2,334.3 167.7,334.4 168.1,334.5 168.6,334.5 169.0,334.6 169.5,334.7 169.9,334.8 170.4,334.9 170.9,335.0 171.3,335.1 171.8,335.2 172.2,335.3 172.7,335.4 173.2,335.5 173.6,335.6 174.1,335.7 174.5,335.8 175.0,335.9 175.4,336.0 175.9,336.1 176.4,336.2 176.8,336.3 177.3,336.3 177.7,336.4 178.2,336.5 178.6,336.6 179.1,336.7 179.6,336.8 180.0,336.9 180.5,337.0 180.9,337.1 181.4,337.2 181.9,337.3 182.3,337.3 182.8,337.4 183.2,337.5 183.7,337.6 184.1,337.7 184.6,337.8 185.1,337.9 185.5,338.0 186.0,338.1 186.4,338.1 186.9,338.2 187.3,338.3 187.8,338.4 188.3,338.5 188.7,338.6 189.2,338.7 189.6,338.7 190.1,338.8 190.6,338.9 191.0,339.0 191.5,339.1 191.9,339.2 192.4,339.3 192.8,339.3 193.3,339.4 193.8,339.5 194.2,339.6 194.7,339.7 195.1,339.8 195.6,339.8 196.1,339.9 196.5,340.0 197.0,340.1 197.4,340.2 197.9,340.2 198.3,340.3 198.8,340.4 199.3,340.5 199.7,340.6 200.2,340.7 200.6,340.7 201.1,340.8 201.5,340.9 202.0,341.0 202.5,341.1 202.9,341.1 203.4,341.2 203.8,341.3 204.3,341.4 204.8,341.4 205.2,341.5 205.7,341.6 206.1,341.7 206.6,341.8 207.0,341.8 207.5,341.9 208.0,342.0 208.4,342.1 208.9,342.1 209.3,342.2 209.8,342.3 210.2,342.4 210.7,342.4 211.2,342.5 211.6,342.6 212.1,342.7 212.5,342.8 213.0,342.8 213.5,342.9 213.9,343.0 214.4,343.0 214.8,343.1 215.3,343.2 215.7,343.3 216.2,343.3 216.7,343.4 217.1,343.5 217.6,343.6 218.0,343.6 218.5,343.7 219.0,343.8 219.4,343.9 219.9,343.9 220.3,344.0 220.8,344.1 221.2,344.1 221.7,344.2 222.2,344.3 222.6,344.4 223.1,344.4 223.5,344.5 224.0,344.6 224.4,344.6 224.9,344.7 225.4,344.8 225.8,344.8 226.3,344.9 226.7,345.0 227.2,345.0 227.7,345.1 228.1,345.2 228.6,345.3 229.0,345.3 229.5,345.4 229.9,345.5 230.4,345.5 230.9,345.6 231.3,345.7 231.8,345.7 232.2,345.8 232.7,345.9 233.2,345.9 233.6,346.0 234.1,346.1 234.5,346.1 235.0,346.2 235.4,346.3 235.9,346.3 236.4,346.4 236.8,346.5 237.3,346.5 237.7,346.6 238.2,346.6 238.6,346.7 239.1,346.8 239.6,346.8 240.0,346.9 240.5,347.0 240.9,347.0 241.4,347.1 241.9,347.2 242.3,347.2 242.8,347.3 243.2,347.3 243.7,347.4 244.1,347.5 244.6,347.5 245.1,347.6 245.5,347.7 246.0,347.7 246.4,347.8 246.9,347.8 247.3,347.9 247.8,348.0 248.3,348.0 248.7,348.1 249.2,348.1 249.6,348.2 250.1,348.3 250.6,348.3 251.0,348.4 251.5,348.4 251.9,348.5 252.4,348.6 252.8,348.6 253.3,348.7 253.8,348.7 254.2,348.8 254.7,348.9 255.1,348.9 255.6,349.0 256.0,349.0 256.5,349.1 257.0,349.2 257.4,349.2 257.9,349.3 258.3,349.3 258.8,349.4 259.3,349.4 259.7,349.5 260.2,349.6 260.6,349.6 261.1,349.7 261.5,349.7 262.0,349.8 262.5,349.8 262.9,349.9 263.4,349.9 263.8,350.0 264.3,350.1 264.8,350.1 265.2,350.2 265.7,350.2 266.1,350.3 266.6,350.3 267.0,350.4 267.5,350.4 268.0,350.5 268.4,350.6 268.9,350.6 269.3,350.7 269.8,350.7 270.2,350.8 270.7,350.8 271.2,350.9 271.6,350.9 272.1,351.0 272.5,351.0 273.0,351.1 273.5,351.1 273.9,351.2 274.4,351.2 274.8,351.3 275.3,351.3 275.7,351.4 276.2,351.5 276.7,351.5 277.1,351.6 277.6,351.6 278.0,351.7 278.5,351.7 278.9,351.8 279.4,351.8 279.9,351.9 280.3,351.9 280.8,352.0 281.2,352.0 281.7,352.1 282.2,352.1 282.6,352.2 283.1,352.2 283.5,352.3 284.0,352.3 284.4,352.4 284.9,352.4 285.4,352.5 285.8,352.5 286.3,352.6 286.7,352.6 287.2,352.7 287.7,352.7 288.1,352.8 288.6,352.8 289.0,352.8 289.5,352.9 289.9,352.9 290.4,353.0 290.9,353.0 291.3,353.1 291.8,353.1 292.2,353.2 292.7,353.2 293.1,353.3 293.6,353.3 294.1,353.4 294.5,353.4 295.0,353.5 295.4,353.5 295.9,353.6 296.4,353.6 296.8,353.6 297.3,353.7 297.7,353.7 298.2,353.8 298.6,353.8 299.1,353.9 299.6,353.9 300.0,354.0 300.5,354.0 300.9,354.1 301.4,354.1 301.8,354.1 302.3,354.2 302.8,354.2 303.2,354.3 303.7,354.3 304.1,354.4 304.6,354.4 305.1,354.5 305.5,354.5 306.0,354.5 306.4,354.6 306.9,354.6 307.3,354.7 307.8,354.7 308.3,354.8 308.7,354.8 309.2,354.8 309.6,354.9 310.1,354.9 310.6,355.0 311.0,355.0 311.5,355.1 311.9,355.1 312.4,355.1 312.8,355.2 313.3,355.2 313.8,355.3 314.2,355.3 314.7,355.3 315.1,355.4 315.6,355.4 316.0,355.5 316.5,355.5 317.0,355.5 317.4,355.6 317.9,355.6 318.3,355.7 318.8,355.7 319.3,355.8 319.7,355.8 320.2,355.8 320.6,355.9 321.1,355.9 321.5,356.0 322.0,356.0 322.5,356.0 322.9,356.1 323.4,356.1 323.8,356.1 324.3,356.2 324.7,356.2 325.2,356.3 325.7,356.3 326.1,356.3 326.6,356.4 327.0,356.4 327.5,356.5 328.0,356.5 328.4,356.5 328.9,356.6 329.3,356.6 329.8,356.6 330.2,356.7 330.7,356.7 331.2,356.8 331.6,356.8 332.1,356.8 332.5,356.9 333.0,356.9 333.5,356.9 333.9,357.0 334.4,357.0 334.8,357.1 335.3,357.1 335.7,357.1 336.2,357.2 336.7,357.2 337.1,357.2 337.6,357.3 338.0,357.3 338.5,357.3 338.9,357.4 339.4,357.4 339.9,357.5 340.3,357.5 340.8,357.5 341.2,357.6 341.7,357.6 342.2,357.6 342.6,357.7 343.1,357.7 343.5,357.7 344.0,357.8 344.4,357.8 344.9,357.8 345.4,357.9 345.8,357.9 346.3,357.9 346.7,358.0 347.2,358.0 347.6,358.1 348.1,358.1 348.6,358.1 349.0,358.2 349.5,358.2 349.9,358.2 350.4,358.3 350.9,358.3 351.3,358.3 351.8,358.4 352.2,358.4 352.7,358.4 353.1,358.5 353.6,358.5 354.1,358.5 354.5,358.6 355.0,358.6 355.4,358.6 355.9,358.7 356.4,358.7 356.8,358.7 357.3,358.7 357.7,358.8 358.2,358.8 358.6,358.8 359.1,358.9 359.6,358.9 360.0,358.9 360.5,359.0 360.9,359.0 361.4,359.0 361.8,359.1 362.3,359.1 362.8,359.1 363.2,359.2 363.7,359.2 364.1,359.2 364.6,359.3 365.1,359.3 365.5,359.3 366.0,359.3 366.4,359.4 366.9,359.4 367.3,359.4 367.8,359.5 368.3,359.5 368.7,359.5 369.2,359.6 369.6,359.6 370.1,359.6 370.5,359.6 371.0,359.7 371.5,359.7 371.9,359.7 372.4,359.8 372.8,359.8 373.3,359.8 373.8,359.9 374.2,359.9 374.7,359.9 375.1,359.9 375.6,360.0 376.0,360.0 376.5,360.0 377.0,360.1 377.4,360.1 377.9,360.1 378.3,360.1 378.8,360.2 379.3,360.2 379.7,360.2 380.2,360.3 380.6,360.3 381.1,360.3 381.5,360.3 382.0,360.4 382.5,360.4 382.9,360.4 383.4,360.5 383.8,360.5 384.3,360.5 384.7,360.5 385.2,360.6 385.7,360.6 386.1,360.6 386.6,360.6 387.0,360.7 387.5,360.7 388.0,360.7 388.4,360.8 388.9,360.8 389.3,360.8 389.8,360.8 390.2,360.9 390.7,360.9 391.2,360.9 391.6,360.9 392.1,361.0 392.5,361.0 393.0,361.0 393.4,361.0 393.9,361.1 394.4,361.1 394.8,361.1 395.3,361.1 395.7,361.2 396.2,361.2 396.7,361.2 397.1,361.3 397.6,361.3 398.0,361.3 398.5,361.3 398.9,361.4 399.4,361.4 399.9,361.4 400.3,361.4 400.8,361.5 401.2,361.5 401.7,361.5 402.2,361.5 402.6,361.6 403.1,361.6 403.5,361.6 404.0,361.6 404.4,361.7 404.9,361.7 405.4,361.7 405.8,361.7 406.3,361.7 406.7,361.8 407.2,361.8 407.6,361.8 408.1,361.8 408.6,361.9 409.0,361.9 409.5,361.9 409.9,361.9 410.4,362.0 410.9,362.0 411.3,362.0 411.8,362.0 412.2,362.1 412.7,362.1 413.1,362.1 413.6,362.1 414.1,362.2 414.5,362.2 415.0,362.2 415.4,362.2 415.9,362.2 416.3,362.3 416.8,362.3 417.3,362.3 417.7,362.3 418.2,362.4 418.6,362.4 419.1,362.4 419.6,362.4 420.0,362.4 420.5,362.5 420.9,362.5 421.4,362.5 421.8,362.5 422.3,362.6 422.8,362.6 423.2,362.6 423.7,362.6 424.1,362.6 424.6,362.7 425.1,362.7 425.5,362.7 426.0,362.7 426.4,362.8 426.9,362.8 427.3,362.8 427.8,362.8 428.3,362.8 428.7,362.9 429.2,362.9 429.6,362.9 430.1,362.9 430.5,362.9 431.0,363.0 431.5,363.0 431.9,363.0 432.4,363.0 432.8,363.1 433.3,363.1 433.8,363.1 434.2,363.1 434.7,363.1 435.1,363.2 435.6,363.2 436.0,363.2 436.5,363.2 437.0,363.2 437.4,363.3 437.9,363.3 438.3,363.3 438.8,363.3 439.2,363.3 439.7,363.4 440.2,363.4 440.6,363.4 441.1,363.4 441.5,363.4 442.0,363.5 442.5,363.5 442.9,363.5 443.4,363.5 443.8,363.5 444.3,363.6 444.7,363.6 445.2,363.6 445.7,363.6 446.1,363.6 446.6,363.7 447.0,363.7 447.5,363.7 448.0,363.7 448.4,363.7 448.9,363.7 449.3,363.8 449.8,363.8 450.2,363.8 450.7,363.8 451.2,363.8 451.6,363.9 452.1,363.9 452.5,363.9 453.0,363.9 453.4,363.9 453.9,364.0 454.4,364.0 454.8,364.0 455.3,364.0 455.7,364.0" fill="none" stroke="#b33822" stroke-width="1" stroke-opacity="0.75"/><polyline points="61.4,316.4 61.9,316.4 62.3,316.4 62.8,316.4 63.2,316.4 63.7,316.4 64.1,316.4 64.6,316.4 65.1,316.4 65.5,316.4 66.0,316.4 66.4,316.4 66.9,316.4 67.4,316.4 67.8,316.4 68.3,316.4 68.7,316.4 69.2,316.4 69.6,316.4 70.1,316.4 70.6,316.4 71.0,316.4 71.5,316.4 71.9,316.4 72.4,316.4 72.8,316.4 73.3,316.4 73.8,316.4 74.2,316.4 74.7,316.4 75.1,316.4 75.6,316.4 76.1,316.4 76.5,316.4 77.0,316.4 77.4,316.4 77.9,316.4 78.3,316.4 78.8,316.4 79.3,316.4 79.7,316.4 80.2,316.4 80.6,316.4 81.1,316.4 81.6,316.4 82.0,316.4 82.5,316.4 82.9,316.4 83.4,316.4 83.8,316.4 84.3,316.4 84.8,316.4 85.2,316.4 85.7,316.4 86.1,316.4 86.6,316.4 87.0,316.4 87.5,316.4 88.0,316.4 88.4,316.4 88.9,316.4 89.3,316.4 89.8,316.4 90.3,316.4 90.7,316.4 91.2,316.4 91.6,316.4 92.1,316.4 92.5,316.4 93.0,316.4 93.5,316.4 93.9,316.4 94.4,316.4 94.8,316.4 95.3,316.4 95.8,316.4 96.2,316.4 96.7,316.4 97.1,316.4 97.6,316.4 98.0,316.4 98.5,316.4 99.0,316.4 99.4,316.4 99.9,316.4 100.3,316.4 100.8,316.4 101.2,316.5 101.7,316.5 102.2,316.6 102.6,316.8 103.1,317.1 103.5,317.5 104.0,318.0 104.5,318.6 104.9,319.4 105.4,320.5 105.8,321.7 106.3,323.3 106.7,325.0 107.2,327.0 107.7,329.3 108.1,331.7 108.6,334.4 109.0,337.2 109.5,340.1 109.9,343.1 110.4,346.1 110.9,349.1 111.3,352.0 111.8,354.9 112.2,357.6 112.7,360.3 113.2,362.8 113.6,365.2 114.1,367.5 114.5,369.6 115.0,371.6 115.4,373.5 115.9,375.2 116.4,376.8 116.8,378.3 117.3,379.7 117.7,381.1 118.2,382.3 118.7,383.5 119.1,384.6 119.6,385.6 120.0,386.5 120.5,387.4 120.9,388.3 121.4,389.1 121.9,389.8 122.3,390.5 122.8,391.1 123.2,391.8 123.7,392.3 124.1,392.9 124.6,393.4 125.1,393.9 125.5,394.3 126.0,394.8 126.4,395.2 126.9,395.6 127.4,395.9 127.8,396.3 128.3,396.6 128.7,396.9 129.2,397.2 129.6,397.5 130.1,397.7 130.6,398.0 131.0,398.2 131.5,398.5 131.9,398.7 132.4,398.9 132.8,399.1 133.3,399.3 133.8,399.5 134.2,399.7 134.7,399.8 135.1,400.0 135.6,400.2 136.1,400.3 136.5,400.5 137.0,400.6 137.4,400.8 137.9,400.9 138.3,401.0 138.8,401.2 139.3,401.3 139.7,401.4 140.2,401.5 140.6,401.6 141.1,401.8 141.5,401.9 142.0,402.0 142.5,402.1 142.9,402.2 143.4,402.3 143.8,402.4 144.3,402.5 144.8,402.6 145.2,402.7 145.7,402.8 146.1,402.9 146.6,403.0 147.0,403.1 147.5,403.2 148.0,403.2 148.4,403.3 148.9,403.4 149.3,403.5 149.8,403.6 150.3,403.7 150.7,403.8 151.2,403.9 151.6,403.9 152.1,404.0 152.5,404.1 153.0,404.2 153.5,404.3 153.9,404.3 154.4,404.4 154.8,404.5 155.3,404.6 155.7,404.7 156.2,404.7 156.7,404.8 157.1,404.9 157.6,405.0 158.0,405.1 158.5,405.1 159.0,405.2 159.4,405.3 159.9,405.4 160.3,405.4 160.8,405.5 161.2,405.6 161.7,405.7 162.2,405.7 162.6,405.8 163.1,405.9 163.5,405.9 164.0,406.0 164.4,406.1 164.9,406.2 165.4,406.2 165.8,406.3 166.3,406.4 166.7,406.5 167.2,406.5 167.7,406.6 168.1,406.7 168.6,406.7 169.0,406.8 169.5,406.9 169.9,406.9 170.4,407.0 170.9,407.1 171.3,407.2 171.8,407.2 172.2,407.3 172.7,407.4 173.2,407.4 173.6,407.5 174.1,407.6 174.5,407.6 175.0,407.7 175.4,407.8 175.9,407.8 176.4,407.9 176.8,408.0 177.3,408.0 177.7,408.1 178.2,408.2 178.6,408.2 179.1,408.3 179.6,408.4 180.0,408.4 180.5,408.5 180.9,408.6 181.4,408.6 181.9,408.7 182.3,408.8 182.8,408.8 183.2,408.9 183.7,409.0 184.1,409.0 184.6,409.1 185.1,409.1 185.5,409.2 186.0,409.3 186.4,409.3 186.9,409.4 187.3,409.5 187.8,409.5 188.3,409.6 188.7,409.7 189.2,409.7 189.6,409.8 190.1,409.8 190.6,409.9 191.0,410.0 191.5,410.0 191.9,410.1 192.4,410.1 192.8,410.2 193.3,410.3 193.8,410.3 194.2,410.4 194.7,410.4 195.1,410.5 195.6,410.6 196.1,410.6 196.5,410.7 197.0,410.7 197.4,410.8 197.9,410.9 198.3,410.9 198.8,411.0 199.3,411.0 199.7,411.1 200.2,411.2 200.6,411.2 201.1,411.3 201.5,411.3 202.0,411.4 202.5,411.4 202.9,411.5 203.4,411.6 203.8,411.6 204.3,411.7 204.8,411.7 205.2,411.8 205.7,411.8 206.1,411.9 206.6,412.0 207.0,412.0 207.5,412.1 208.0,412.1 208.4,412.2 208.9,412.2 209.3,412.3 209.8,412.4 210.2,412.4 210.7,412.5 211.2,412.5 211.6,412.6 212.1,412.6 212.5,412.7 213.0,412.7 213.5,412.8 213.9,412.8 214.4,412.9 214.8,413.0 215.3,413.0 215.7,413.1 216.2,413.1 216.7,413.2 217.1,413.2 217.6,413.3 218.0,413.3 218.5,413.4 219.0,413.4 219.4,413.5 219.9,413.5 220.3,413.6 220.8,413.6 221.2,413.7 221.7,413.7 222.2,413.8 222.6,413.8 223.1,413.9 223.5,413.9 224.0,414.0 224.4,414.0 224.9,414.1 225.4,414.1 225.8,414.2 226.3,414.2 226.7,414.3 227.2,414.4 227.7,414.4 228.1,414.4 228.6,414.5 229.0,414.5 229.5,414.6 229.9,414.6 230.4,414.7 230.9,414.7 231.3,414.8 231.8,414.8 232.2,414.9 232.7,414.9 233.2,415.0 233.6,415.0 234.1,415.1 234.5,415.1 235.0,415.2 235.4,415.2 235.9,415.3 236.4,415.3 236.8,415.4 237.3,415.4 237.7,415.5 238.2,415.5 238.6,415.6 239.1,415.6 239.6,415.7 240.0,415.7 240.5,415.7 240.9,415.8 241.4,415.8 241.9,415.9 242.3,415.9 242.8,416.0 243.2,416.0 243.7,416.1 244.1,416.1 244.6,416.2 245.1,416.2 245.5,416.2 246.0,416.3 246.4,416.3 246.9,416.4 247.3,416.4 247.8,416.5 248.3,416.5 248.7,416.6 249.2,416.6 249.6,416.6 250.1,416.7 250.6,416.7 251.0,416.8 251.5,416.8 251.9,416.9 252.4,416.9 252.8,417.0 253.3,417.0 253.8,417.0 254.2,417.1 254.7,417.1 255.1,417.2 255.6,417.2 256.0,417.3 256.5,417.3 257.0,417.3 257.4,417.4 257.9,417.4 258.3,417.5 258.8,417.5 259.3,417.5 259.7,417.6 260.2,417.6 260.6,417.7 261.1,417.7 261.5,417.8 262.0,417.8 262.5,417.8 262.9,417.9 263.4,417.9 263.8,418.0 264.3,418.0 264.8,418.0 265.2,418.1 265.7,418.1 266.1,418.2 266.6,418.2 267.0,418.2 267.5,418.3 268.0,418.3 268.4,418.4 268.9,418.4 269.3,418.4 269.8,418.5 270.2,418.5 270.7,418.6 271.2,418.6 271.6,418.6 272.1,418.7 272.5,418.7 273.0,418.7 273.5,418.8 273.9,418.8 274.4,418.9 274.8,418.9 275.3,418.9 275.7,419.0 276.2,419.0 276.7,419.0 277.1,419.1 277.6,419.1 278.0,419.2 278.5,419.2 278.9,419.2 279.4,419.3 279.9,419.3 280.3,419.3 280.8,419.4 281.2,419.4 281.7,419.5 282.2,419.5 282.6,419.5 283.1,419.6 283.5,419.6 284.0,419.6 284.4,419.7 284.9,419.7 285.4,419.7 285.8,419.8 286.3,419.8 286.7,419.9 287.2,419.9 287.7,419.9 288.1,420.0 288.6,420.0 289.0,420.0 289.5,420.1 289.9,420.1 290.4,420.1 290.9,420.2 291.3,420.2 291.8,420.2 292.2,420.3 292.7,420.3 293.1,420.3 293.6,420.4 294.1,420.4 294.5,420.4 295.0,420.5 295.4,420.5 295.9,420.5 296.4,420.6 296.8,420.6 297.3,420.6 297.7,420.7 298.2,420.7 298.6,420.7 299.1,420.8 299.6,420.8 300.0,420.8 300.5,420.9 300.9,420.9 301.4,420.9 301.8,421.0 302.3,421.0 302.8,421.0 303.2,421.1 303.7,421.1 304.1,421.1 304.6,421.2 305.1,421.2 305.5,421.2 306.0,421.3 306.4,421.3 306.9,421.3 307.3,421.4 307.8,421.4 308.3,421.4 308.7,421.5 309.2,421.5 309.6,421.5 310.1,421.5 310.6,421.6 311.0,421.6 311.5,421.6 311.9,421.7 312.4,421.7 312.8,421.7 313.3,421.8 313.8,421.8 314.2,421.8 314.7,421.9 315.1,421.9 315.6,421.9 316.0,421.9 316.5,422.0 317.0,422.0 317.4,422.0 317.9,422.1 318.3,422.1 318.8,422.1 319.3,422.2 319.7,422.2 320.2,422.2 320.6,422.2 321.1,422.3 321.5,422.3 322.0,422.3 322.5,422.4 322.9,422.4 323.4,422.4 323.8,422.4 324.3,422.5 324.7,422.5 325.2,422.5 325.7,422.6 326.1,422.6 326.6,422.6 327.0,422.6 327.5,422.7 328.0,422.7 328.4,422.7 328.9,422.8 329.3,422.8 329.8,422.8 330.2,422.8 330.7,422.9 331.2,422.9 331.6,422.9 332.1,422.9 332.5,423.0 333.0,423.0 333.5,423.0 333.9,423.1 334.4,423.1 334.8,423.1 335.3,423.1 335.7,423.2 336.2,423.2 336.7,423.2 337.1,423.2 337.6,423.3 338.0,423.3 338.5,423.3 338.9,423.3 339.4,423.4 339.9,423.4 340.3,423.4 340.8,423.5 341.2,423.5 341.7,423.5 342.2,423.5 342.6,423.6 343.1,423.6 343.5,423.6 344.0,423.6 344.4,423.7 344.9,423.7 345.4,423.7 345.8,423.7 346.3,423.8 346.7,423.8 347.2,423.8 347.6,423.8 348.1,423.9 348.6,423.9 349.0,423.9 349.5,423.9 349.9,424.0 350.4,424.0 350.9,424.0 351.3,424.0 351.8,424.1 352.2,424.1 352.7,424.1 353.1,424.1 353.6,424.2 354.1,424.2 354.5,424.2 355.0,424.2 355.4,424.3 355.9,424.3 356.4,424.3 356.8,424.3 357.3,424.3 357.7,424.4 358.2,424.4 358.6,424.4 359.1,424.4 359.6,424.5 360.0,424.5 360.5,424.5 360.9,424.5 361.4,424.6 361.8,424.6 362.3,424.6 362.8,424.6 363.2,424.7 363.7,424.7 364.1,424.7 364.6,424.7 365.1,424.7 365.5,424.8 366.0,424.8 366.4,424.8 366.9,424.8 367.3,424.9 367.8,424.9 368.3,424.9 368.7,424.9 369.2,424.9 369.6,425.0 370.1,425.0 370.5,425.0 371.0,425.0 371.5,425.1 371.9,425.1 372.4,425.1 372.8,425.1 373.3,425.1 373.8,425.2 374.2,425.2 374.7,425.2 375.1,425.2 375.6,425.2 376.0,425.3 376.5,425.3 377.0,425.3 377.4,425.3 377.9,425.4 378.3,425.4 378.8,425.4 379.3,425.4 379.7,425.4 380.2,425.5 380.6,425.5 381.1,425.5 381.5,425.5 382.0,425.5 382.5,425.6 382.9,425.6 383.4,425.6 383.8,425.6 384.3,425.6 384.7,425.7 385.2,425.7 385.7,425.7 386.1,425.7 386.6,425.7 387.0,425.8 387.5,425.8 388.0,425.8 388.4,425.8 388.9,425.8 389.3,425.9 389.8,425.9 390.2,425.9 390.7,425.9 391.2,425.9 391.6,426.0 392.1,426.0 392.5,426.0 393.0,426.0 393.4,426.0 393.9,426.1 394.4,426.1 394.8,426.1 395.3,426.1 395.7,426.1 396.2,426.2 396.7,426.2 397.1,426.2 397.6,426.2 398.0,426.2 398.5,426.2 398.9,426.3 399.4,426.3 399.9,426.3 400.3,426.3 400.8,426.3 401.2,426.4 401.7,426.4 402.2,426.4 402.6,426.4 403.1,426.4 403.5,426.4 404.0,426.5 404.4,426.5 404.9,426.5 405.4,426.5 405.8,426.5 406.3,426.6 406.7,426.6 407.2,426.6 407.6,426.6 408.1,426.6 408.6,426.6 409.0,426.7 409.5,426.7 409.9,426.7 410.4,426.7 410.9,426.7 411.3,426.7 411.8,426.8 412.2,426.8 412.7,426.8 413.1,426.8 413.6,426.8 414.1,426.9 414.5,426.9 415.0,426.9 415.4,426.9 415.9,426.9 416.3,426.9 416.8,427.0 417.3,427.0 417.7,427.0 418.2,427.0 418.6,427.0 419.1,427.0 419.6,427.1 420.0,427.1 420.5,427.1 420.9,427.1 421.4,427.1 421.8,427.1 422.3,427.2 422.8,427.2 423.2,427.2 423.7,427.2 424.1,427.2 424.6,427.2 425.1,427.2 425.5,427.3 426.0,427.3 426.4,427.3 426.9,427.3 427.3,427.3 427.8,427.3 428.3,427.4 428.7,427.4 429.2,427.4 429.6,427.4 430.1,427.4 430.5,427.4 431.0,427.5 431.5,427.5 431.9,427.5 432.4,427.5 432.8,427.5 433.3,427.5 433.8,427.5 434.2,427.6 434.7,427.6 435.1,427.6 435.6,427.6 436.0,427.6 436.5,427.6 437.0,427.7 437.4,427.7 437.9,427.7 438.3,427.7 438.8,427.7 439.2,427.7 439.7,427.7 440.2,427.8 440.6,427.8 441.1,427.8 441.5,427.8 442.0,427.8 442.5,427.8 442.9,427.8 443.4,427.9 443.8,427.9 444.3,427.9 444.7,427.9 445.2,427.9 445.7,427.9 446.1,427.9 446.6,428.0 447.0,428.0 447.5,428.0 448.0,428.0 448.4,428.0 448.9,428.0 449.3,428.0 449.8,428.1 450.2,428.1 450.7,428.1 451.2,428.1 451.6,428.1 452.1,428.1 452.5,428.1 453.0,428.2 453.4,428.2 453.9,428.2 454.4,428.2 454.8,428.2 455.3,428.2 455.7,428.2" fill="none" stroke="#80a22a" stroke-width="1" stroke-opacity="0.75"/><polyline points="61.4,367.4 61.9,367.4 62.3,367.4 62.8,367.4 63.2,367.4 63.7,367.4 64.1,367.4 64.6,367.4 65.1,367.4 65.5,367.4 66.0,367.4 66.4,367.4 66.9,367.4 67.4,367.4 67.8,367.4 68.3,367.4 68.7,367.4 69.2,367.4 69.6,367.4 70.1,367.4 70.6,367.4 71.0,367.4 71.5,367.4 71.9,367.4 72.4,367.4 72.8,367.4 73.3,367.4 73.8,367.4 74.2,367.4 74.7,367.4 75.1,367.4 75.6,367.4 76.1,367.4 76.5,367.4 77.0,367.4 77.4,367.4 77.9,367.4 78.3,367.4 78.8,367.4 79.3,367.4 79.7,367.4 80.2,367.4 80.6,367.4 81.1,367.4 81.6,367.4 82.0,367.4 82.5,367.4 82.9,367.4 83.4,367.4 83.8,367.4 84.3,367.4 84.8,367.4 85.2,367.4 85.7,367.4 86.1,367.4 86.6,367.4 87.0,367.4 87.5,367.4 88.0,367.4 88.4,367.4 88.9,367.4 89.3,367.4 89.8,367.4 90.3,367.4 90.7,367.4 91.2,367.4 91.6,367.4 92.1,367.4 92.5,367.4 93.0,367.4 93.5,367.4 93.9,367.4 94.4,367.4 94.8,367.4 95.3,367.4 95.8,367.4 96.2,367.4 96.7,367.4 97.1,367.4 97.6,367.4 98.0,367.4 98.5,367.4 99.0,367.4 99.4,367.4 99.9,367.4 100.3,367.4 100.8,367.4 101.2,367.5 101.7,367.6 102.2,367.7 102.6,368.0 103.1,368.3 103.5,368.9 104.0,369.5 104.5,370.4 104.9,371.6 105.4,373.0 105.8,374.7 106.3,376.8 106.7,379.2 107.2,381.9 107.7,384.9 108.1,388.3 108.6,391.8 109.0,395.5 109.5,399.4 109.9,403.3 110.4,407.3 110.9,411.2 111.3,415.0 111.8,418.7 112.2,422.2 112.7,425.6 113.2,428.8 113.6,431.7 114.1,434.5 114.5,437.1 115.0,439.5 115.4,441.8 115.9,443.8 116.4,445.7 116.8,447.5 117.3,449.1 117.7,450.6 118.2,452.0 118.7,453.3 119.1,454.6 119.6,455.7 120.0,456.7 120.5,457.7 120.9,458.6 121.4,459.4 121.9,460.2 122.3,460.9 122.8,461.6 123.2,462.3 123.7,462.9 124.1,463.4 124.6,463.9 125.1,464.4 125.5,464.9 126.0,465.3 126.4,465.8 126.9,466.1 127.4,466.5 127.8,466.9 128.3,467.2 128.7,467.5 129.2,467.8 129.6,468.1 130.1,468.3 130.6,468.6 131.0,468.8 131.5,469.1 131.9,469.3 132.4,469.5 132.8,469.7 133.3,469.9 133.8,470.1 134.2,470.3 134.7,470.5 135.1,470.7 135.6,470.8 136.1,471.0 136.5,471.2 137.0,471.3 137.4,471.5 137.9,471.6 138.3,471.8 138.8,471.9 139.3,472.1 139.7,472.2 140.2,472.3 140.6,472.5 141.1,472.6 141.5,472.7 142.0,472.8 142.5,473.0 142.9,473.1 143.4,473.2 143.8,473.3 144.3,473.4 144.8,473.6 145.2,473.7 145.7,473.8 146.1,473.9 146.6,474.0 147.0,474.1 147.5,474.2 148.0,474.3 148.4,474.4 148.9,474.5 149.3,474.6 149.8,474.7 150.3,474.8 150.7,475.0 151.2,475.1 151.6,475.2 152.1,475.3 152.5,475.4 153.0,475.4 153.5,475.5 153.9,475.6 154.4,475.7 154.8,475.8 155.3,475.9 155.7,476.0 156.2,476.1 156.7,476.2 157.1,476.3 157.6,476.4 158.0,476.5 158.5,476.6 159.0,476.7 159.4,476.8 159.9,476.8 160.3,476.9 160.8,477.0 161.2,477.1 161.7,477.2 162.2,477.3 162.6,477.4 163.1,477.5 163.5,477.5 164.0,477.6 164.4,477.7 164.9,477.8 165.4,477.9 165.8,478.0 166.3,478.0 166.7,478.1 167.2,478.2 167.7,478.3 168.1,478.4 168.6,478.5 169.0,478.5 169.5,478.6 169.9,478.7 170.4,478.8 170.9,478.8 171.3,478.9 171.8,479.0 172.2,479.1 172.7,479.2 173.2,479.2 173.6,479.3 174.1,479.4 174.5,479.5 175.0,479.5 175.4,479.6 175.9,479.7 176.4,479.8 176.8,479.8 177.3,479.9 177.7,480.0 178.2,480.0 178.6,480.1 179.1,480.2 179.6,480.3 180.0,480.3 180.5,480.4 180.9,480.5 181.4,480.5 181.9,480.6 182.3,480.7 182.8,480.7 183.2,480.8 183.7,480.9 184.1,480.9 184.6,481.0 185.1,481.1 185.5,481.1 186.0,481.2 186.4,481.3 186.9,481.3 187.3,481.4 187.8,481.5 188.3,481.5 188.7,481.6 189.2,481.7 189.6,481.7 190.1,481.8 190.6,481.8 191.0,481.9 191.5,482.0 191.9,482.0 192.4,482.1 192.8,482.2 193.3,482.2 193.8,482.3 194.2,482.3 194.7,482.4 195.1,482.5 195.6,482.5 196.1,482.6 196.5,482.6 197.0,482.7 197.4,482.7 197.9,482.8 198.3,482.9 198.8,482.9 199.3,483.0 199.7,483.0 200.2,483.1 200.6,483.1 201.1,483.2 201.5,483.2 202.0,483.3 202.5,483.4 202.9,483.4 203.4,483.5 203.8,483.5 204.3,483.6 204.8,483.6 205.2,483.7 205.7,483.7 206.1,483.8 206.6,483.8 207.0,483.9 207.5,483.9 208.0,484.0 208.4,484.0 208.9,484.1 209.3,484.1 209.8,484.2 210.2,484.2 210.7,484.3 211.2,484.3 211.6,484.4 212.1,484.4 212.5,484.5 213.0,484.5 213.5,484.6 213.9,484.6 214.4,484.7 214.8,484.7 215.3,484.8 215.7,484.8 216.2,484.9 216.7,484.9 217.1,485.0 217.6,485.0 218.0,485.0 218.5,485.1 219.0,485.1 219.4,485.2 219.9,485.2 220.3,485.3 220.8,485.3 221.2,485.4 221.7,485.4 222.2,485.4 222.6,485.5 223.1,485.5 223.5,485.6 224.0,485.6 224.4,485.7 224.9,485.7 225.4,485.7 225.8,485.8 226.3,485.8 226.7,485.9 227.2,485.9 227.7,485.9 228.1,486.0 228.6,486.0 229.0,486.1 229.5,486.1 229.9,486.1 230.4,486.2 230.9,486.2 231.3,486.3 231.8,486.3 232.2,486.3 232.7,486.4 233.2,486.4 233.6,486.5 234.1,486.5 234.5,486.5 235.0,486.6 235.4,486.6 235.9,486.6 236.4,486.7 236.8,486.7 237.3,486.7 237.7,486.8 238.2,486.8 238.6,486.9 239.1,486.9 239.6,486.9 240.0,487.0 240.5,487.0 240.9,487.0 241.4,487.1 241.9,487.1 242.3,487.1 242.8,487.2 243.2,487.2 243.7,487.2 244.1,487.3 244.6,487.3 245.1,487.3 245.5,487.4 246.0,487.4 246.4,487.4 246.9,487.5 247.3,487.5 247.8,487.5 248.3,487.6 248.7,487.6 249.2,487.6 249.6,487.7 250.1,487.7 250.6,487.7 251.0,487.8 251.5,487.8 251.9,487.8 252.4,487.8 252.8,487.9 253.3,487.9 253.8,487.9 254.2,488.0 254.7,488.0 255.1,488.0 255.6,488.1 256.0,488.1 256.5,488.1 257.0,488.1 257.4,488.2 257.9,488.2 258.3,488.2 258.8,488.3 259.3,488.3 259.7,488.3 260.2,488.3 260.6,488.4 261.1,488.4 261.5,488.4 262.0,488.5 262.5,488.5 262.9,488.5 263.4,488.5 263.8,488.6 264.3,488.6 264.8,488.6 265.2,488.6 265.7,488.7 266.1,488.7 266.6,488.7 267.0,488.7 267.5,488.8 268.0,488.8 268.4,488.8 268.9,488.9 269.3,488.9 269.8,488.9 270.2,488.9 270.7,489.0 271.2,489.0 271.6,489.0 272.1,489.0 272.5,489.0 273.0,489.1 273.5,489.1 273.9,489.1 274.4,489.1 274.8,489.2 275.3,489.2 275.7,489.2 276.2,489.2 276.7,489.3 277.1,489.3 277.6,489.3 278.0,489.3 278.5,489.4 278.9,489.4 279.4,489.4 279.9,489.4 280.3,489.4 280.8,489.5 281.2,489.5 281.7,489.5 282.2,489.5 282.6,489.6 283.1,489.6 283.5,489.6 284.0,489.6 284.4,489.6 284.9,489.7 285.4,489.7 285.8,489.7 286.3,489.7 286.7,489.7 287.2,489.8 287.7,489.8 288.1,489.8 288.6,489.8 289.0,489.8 289.5,489.9 289.9,489.9 290.4,489.9 290.9,489.9 291.3,489.9 291.8,490.0 292.2,490.0 292.7,490.0 293.1,490.0 293.6,490.0 294.1,490.1 294.5,490.1 295.0,490.1 295.4,490.1 295.9,490.1 296.4,490.2 296.8,490.2 297.3,490.2 297.7,490.2 298.2,490.2 298.6,490.2 299.1,490.3 299.6,490.3 300.0,490.3 300.5,490.3 300.9,490.3 301.4,490.3 301.8,490.4 302.3,490.4 302.8,490.4 303.2,490.4 303.7,490.4 304.1,490.5 304.6,490.5 305.1,490.5 305.5,490.5 306.0,490.5 306.4,490.5 306.9,490.5 307.3,490.6 307.8,490.6 308.3,490.6 308.7,490.6 309.2,490.6 309.6,490.6 310.1,490.7 310.6,490.7 311.0,490.7 311.5,490.7 311.9,490.7 312.4,490.7 312.8,490.8 313.3,490.8 313.8,490.8 314.2,490.8 314.7,490.8 315.1,490.8 315.6,490.8 316.0,490.9 316.5,490.9 317.0,490.9 317.4,490.9 317.9,490.9 318.3,490.9 318.8,490.9 319.3,491.0 319.7,491.0 320.2,491.0 320.6,491.0 321.1,491.0 321.5,491.0 322.0,491.0 322.5,491.1 322.9,491.1 323.4,491.1 323.8,491.1 324.3,491.1 324.7,491.1 325.2,491.1 325.7,491.2 326.1,491.2 326.6,491.2 327.0,491.2 327.5,491.2 328.0,491.2 328.4,491.2 328.9,491.2 329.3,491.3 329.8,491.3 330.2,491.3 330.7,491.3 331.2,491.3 331.6,491.3 332.1,491.3 332.5,491.3 333.0,491.4 333.5,491.4 333.9,491.4 334.4,491.4 334.8,491.4 335.3,491.4 335.7,491.4 336.2,491.4 336.7,491.4 337.1,491.5 337.6,491.5 338.0,491.5 338.5,491.5 338.9,491.5 339.4,491.5 339.9,491.5 340.3,491.5 340.8,491.5 341.2,491.6 341.7,491.6 342.2,491.6 342.6,491.6 343.1,491.6 343.5,491.6 344.0,491.6 344.4,491.6 344.9,491.6 345.4,491.7 345.8,491.7 346.3,491.7 346.7,491.7 347.2,491.7 347.6,491.7 348.1,491.7 348.6,491.7 349.0,491.7 349.5,491.7 349.9,491.8 350.4,491.8 350.9,491.8 351.3,491.8 351.8,491.8 352.2,491.8 352.7,491.8 353.1,491.8 353.6,491.8 354.1,491.8 354.5,491.9 355.0,491.9 355.4,491.9 355.9,491.9 356.4,491.9 356.8,491.9 357.3,491.9 357.7,491.9 358.2,491.9 358.6,491.9 359.1,491.9 359.6,492.0 360.0,492.0 360.5,492.0 360.9,492.0 361.4,492.0 361.8,492.0 362.3,492.0 362.8,492.0 363.2,492.0 363.7,492.0 364.1,492.0 364.6,492.1 365.1,492.1 365.5,492.1 366.0,492.1 366.4,492.1 366.9,492.1 367.3,492.1 367.8,492.1 368.3,492.1 368.7,492.1 369.2,492.1 369.6,492.1 370.1,492.2 370.5,492.2 371.0,492.2 371.5,492.2 371.9,492.2 372.4,492.2 372.8,492.2 373.3,492.2 373.8,492.2 374.2,492.2 374.7,492.2 375.1,492.2 375.6,492.2 376.0,492.2 376.5,492.3 377.0,492.3 377.4,492.3 377.9,492.3 378.3,492.3 378.8,492.3 379.3,492.3 379.7,492.3 380.2,492.3 380.6,492.3 381.1,492.3 381.5,492.3 382.0,492.3 382.5,492.3 382.9,492.4 383.4,492.4 383.8,492.4 384.3,492.4 384.7,492.4 385.2,492.4 385.7,492.4 386.1,492.4 386.6,492.4 387.0,492.4 387.5,492.4 388.0,492.4 388.4,492.4 388.9,492.4 389.3,492.4 389.8,492.5 390.2,492.5 390.7,492.5 391.2,492.5 391.6,492.5 392.1,492.5 392.5,492.5 393.0,492.5 393.4,492.5 393.9,492.5 394.4,492.5 394.8,492.5 395.3,492.5 395.7,492.5 396.2,492.5 396.7,492.5 397.1,492.6 397.6,492.6 398.0,492.6 398.5,492.6 398.9,492.6 399.4,492.6 399.9,492.6 400.3,492.6 400.8,492.6 401.2,492.6 401.7,492.6 402.2,492.6 402.6,492.6 403.1,492.6 403.5,492.6 404.0,492.6 404.4,492.6 404.9,492.6 405.4,492.7 405.8,492.7 406.3,492.7 406.7,492.7 407.2,492.7 407.6,492.7 408.1,492.7 408.6,492.7 409.0,492.7 409.5,492.7 409.9,492.7 410.4,492.7 410.9,492.7 411.3,492.7 411.8,492.7 412.2,492.7 412.7,492.7 413.1,492.7 413.6,492.7 414.1,492.7 414.5,492.8 415.0,492.8 415.4,492.8 415.9,492.8 416.3,492.8 416.8,492.8 417.3,492.8 417.7,492.8 418.2,492.8 418.6,492.8 419.1,492.8 419.6,492.8 420.0,492.8 420.5,492.8 420.9,492.8 421.4,492.8 421.8,492.8 422.3,492.8 422.8,492.8 423.2,492.8 423.7,492.8 424.1,492.8 424.6,492.8 425.1,492.9 425.5,492.9 426.0,492.9 426.4,492.9 426.9,492.9 427.3,492.9 427.8,492.9 428.3,492.9 428.7,492.9 429.2,492.9 429.6,492.9 430.1,492.9 430.5,492.9 431.0,492.9 431.5,492.9 431.9,492.9 432.4,492.9 432.8,492.9 433.3,492.9 433.8,492.9 434.2,492.9 434.7,492.9 435.1,492.9 435.6,492.9 436.0,492.9 436.5,493.0 437.0,493.0 437.4,493.0 437.9,493.0 438.3,493.0 438.8,493.0 439.2,493.0 439.7,493.0 440.2,493.0 440.6,493.0 441.1,493.0 441.5,493.0 442.0,493.0 442.5,493.0 442.9,493.0 443.4,493.0 443.8,493.0 444.3,493.0 444.7,493.0 445.2,493.0 445.7,493.0 446.1,493.0 446.6,493.0 447.0,493.0 447.5,493.0 448.0,493.0 448.4,493.0 448.9,493.0 449.3,493.0 449.8,493.1 450.2,493.1 450.7,493.1 451.2,493.1 451.6,493.1 452.1,493.1 452.5,493.1 453.0,493.1 453.4,493.1 453.9,493.1 454.4,493.1 454.8,493.1 455.3,493.1 455.7,493.1" fill="none" stroke="#239d6c" stroke-width="1" stroke-opacity="0.75"/><path d="M61.9 143.2V152.0M60.8 143.2H63.0M60.8 152.0H63.0M71.4 156.2V165.0M70.3 156.2H72.5M70.3 165.0H72.5M77.9 167.6V176.4M76.8 167.6H79.0M76.8 176.4H79.0M80.5 156.2V165.0M79.4 156.2H81.6M79.4 165.0H81.6M82.7 163.3V172.1M81.6 163.3H83.8M81.6 172.1H83.8M85.1 159.8V168.6M84.0 159.8H86.2M84.0 168.6H86.2M87.4 168.1V176.9M86.3 168.1H88.5M86.3 176.9H88.5M89.6 160.1V168.9M88.5 160.1H90.7M88.5 168.9H90.7M91.8 151.8V160.6M90.7 151.8H92.9M90.7 160.6H92.9M94.4 160.5V169.3M93.3 160.5H95.5M93.3 169.3H95.5M96.5 150.8V159.6M95.4 150.8H97.6M95.4 159.6H97.6M99.1 157.2V166.0M98.0 157.2H100.2M98.0 166.0H100.2M100.9 155.5V164.3M99.8 155.5H102.0M99.8 164.3H102.0M103.5 171.3V180.1M102.4 171.3H104.6M102.4 180.1H104.6M105.6 161.1V169.9M104.5 161.1H106.7M104.5 169.9H106.7M108.2 167.0V175.8M107.1 167.0H109.3M107.1 175.8H109.3M110.2 154.6V163.4M109.1 154.6H111.3M109.1 163.4H111.3M112.8 160.1V168.9M111.7 160.1H113.9M111.7 168.9H113.9M115.4 173.5V182.3M114.3 173.5H116.5M114.3 182.3H116.5M117.5 179.5V188.3M116.4 179.5H118.6M116.4 188.3H118.6M119.7 188.6V197.4M118.6 188.6H120.8M118.6 197.4H120.8M121.9 172.4V181.2M120.8 172.4H123.0M120.8 181.2H123.0M124.7 179.5V188.3M123.6 179.5H125.8M123.6 188.3H125.8M126.8 180.0V188.8M125.7 180.0H127.9M125.7 188.8H127.9M129.0 178.5V187.3M127.9 178.5H130.1M127.9 187.3H130.1M131.2 177.2V186.0M130.1 177.2H132.3M130.1 186.0H132.3M133.8 182.1V190.9M132.7 182.1H134.9M132.7 190.9H134.9M135.5 184.3V193.1M134.4 184.3H136.6M134.4 193.1H136.6M137.7 185.4V194.2M136.6 185.4H138.8M136.6 194.2H138.8M140.3 192.3V201.1M139.2 192.3H141.4M139.2 201.1H141.4M142.8 180.0V188.8M141.7 180.0H143.9M141.7 188.8H143.9M145.0 187.1V195.9M143.9 187.1H146.1M143.9 195.9H146.1M149.3 174.1V182.9M148.2 174.1H150.4M148.2 182.9H150.4M153.7 186.5V195.3M152.6 186.5H154.8M152.6 195.3H154.8M157.1 187.6V196.4M156.0 187.6H158.2M156.0 196.4H158.2M158.2 187.6V196.4M157.1 187.6H159.3M157.1 196.4H159.3M163.0 195.0V203.8M161.9 195.0H164.1M161.9 203.8H164.1M167.6 195.6V204.4M166.5 195.6H168.7M166.5 204.4H168.7M172.3 191.3V200.1M171.2 191.3H173.4M171.2 200.1H173.4M176.6 187.0V195.8M175.5 187.0H177.7M175.5 195.8H177.7M181.4 196.7V205.5M180.3 196.7H182.5M180.3 205.5H182.5M186.0 190.2V199.0M184.9 190.2H187.1M184.9 199.0H187.1M190.7 188.7V197.5M189.6 188.7H191.8M189.6 197.5H191.8M195.0 192.4V201.2M193.9 192.4H196.1M193.9 201.2H196.1M199.8 185.3V194.1M198.7 185.3H200.9M198.7 194.1H200.9M204.4 187.4V196.2M203.3 187.4H205.5M203.3 196.2H205.5M208.7 185.9V194.7M207.6 185.9H209.8M207.6 194.7H209.8M213.4 192.4V201.2M212.3 192.4H214.5M212.3 201.2H214.5M218.0 188.1V196.9M216.9 188.1H219.1M216.9 196.9H219.1M222.7 198.2V207.0M221.6 198.2H223.8M221.6 207.0H223.8M227.5 184.8V193.6M226.4 184.8H228.6M226.4 193.6H228.6M231.8 184.2V193.0M230.7 184.2H232.9M230.7 193.0H232.9M236.6 185.9V194.7M235.5 185.9H237.7M235.5 194.7H237.7M259.1 178.3V187.1M258.0 178.3H260.2M258.0 187.1H260.2M282.5 195.0V203.8M281.4 195.0H283.6M281.4 203.8H283.6M305.2 187.6V196.4M304.1 187.6H306.3M304.1 196.4H306.3M327.9 185.5V194.3M326.8 185.5H329.0M326.8 194.3H329.0M350.5 191.2V200.0M349.4 191.2H351.6M349.4 200.0H351.6M373.6 192.9V201.7M372.5 192.9H374.7M372.5 201.7H374.7M396.8 194.2V203.0M395.7 194.2H397.9M395.7 203.0H397.9M419.7 183.5V192.3M418.6 183.5H420.8M418.6 192.3H420.8M442.6 188.0V196.8M441.5 188.0H443.7M441.5 196.8H443.7" stroke="#2443a8" stroke-width="1" stroke-opacity="0.8" fill="none"/><g fill="#2443a8"><circle cx="62.1" cy="147.8" r="2.1"/><circle cx="71.6" cy="160.8" r="2.1"/><circle cx="78.1" cy="172.2" r="2.1"/><circle cx="80.7" cy="160.8" r="2.1"/><circle cx="82.9" cy="167.9" r="2.1"/><circle cx="85.3" cy="164.4" r="2.1"/><circle cx="87.6" cy="172.7" r="2.1"/><circle cx="89.8" cy="164.7" r="2.1"/><circle cx="92.0" cy="156.4" r="2.1"/><circle cx="94.6" cy="165.1" r="2.1"/><circle cx="96.7" cy="155.4" r="2.1"/><circle cx="99.3" cy="161.8" r="2.1"/><circle cx="101.1" cy="160.1" r="2.1"/><circle cx="103.7" cy="175.9" r="2.1"/><circle cx="105.8" cy="165.7" r="2.1"/><circle cx="108.4" cy="171.6" r="2.1"/><circle cx="110.4" cy="159.2" r="2.1"/><circle cx="113.0" cy="164.7" r="2.1"/><circle cx="115.6" cy="178.1" r="2.1"/><circle cx="117.7" cy="184.1" r="2.1"/><circle cx="119.9" cy="193.2" r="2.1"/><circle cx="122.1" cy="177.0" r="2.1"/><circle cx="124.9" cy="184.1" r="2.1"/><circle cx="127.0" cy="184.6" r="2.1"/><circle cx="129.2" cy="183.1" r="2.1"/><circle cx="131.4" cy="181.8" r="2.1"/><circle cx="134.0" cy="186.7" r="2.1"/><circle cx="135.7" cy="188.9" r="2.1"/><circle cx="137.9" cy="190.0" r="2.1"/><circle cx="140.5" cy="196.9" r="2.1"/><circle cx="143.0" cy="184.6" r="2.1"/><circle cx="145.2" cy="191.7" r="2.1"/><circle cx="149.5" cy="178.7" r="2.1"/><circle cx="153.9" cy="191.1" r="2.1"/><circle cx="157.3" cy="192.2" r="2.1"/><circle cx="158.4" cy="192.2" r="2.1"/><circle cx="163.2" cy="199.6" r="2.1"/><circle cx="167.8" cy="200.2" r="2.1"/><circle cx="172.5" cy="195.9" r="2.1"/><circle cx="176.8" cy="191.6" r="2.1"/><circle cx="181.6" cy="201.3" r="2.1"/><circle cx="186.2" cy="194.8" r="2.1"/><circle cx="190.9" cy="193.3" r="2.1"/><circle cx="195.2" cy="197.0" r="2.1"/><circle cx="200.0" cy="189.9" r="2.1"/><circle cx="204.6" cy="192.0" r="2.1"/><circle cx="208.9" cy="190.5" r="2.1"/><circle cx="213.6" cy="197.0" r="2.1"/><circle cx="218.2" cy="192.7" r="2.1"/><circle cx="222.9" cy="202.8" r="2.1"/><circle cx="227.7" cy="189.4" r="2.1"/><circle cx="232.0" cy="188.8" r="2.1"/><circle cx="236.8" cy="190.5" r="2.1"/><circle cx="259.3" cy="182.9" r="2.1"/><circle cx="282.7" cy="199.6" r="2.1"/><circle cx="305.4" cy="192.2" r="2.1"/><circle cx="328.1" cy="190.1" r="2.1"/><circle cx="350.7" cy="195.8" r="2.1"/><circle cx="373.8" cy="197.5" r="2.1"/><circle cx="397.0" cy="198.8" r="2.1"/><circle cx="419.9" cy="188.1" r="2.1"/><circle cx="442.8" cy="192.6" r="2.1"/></g><path d="M62.3 219.2V229.2M61.2 219.2H63.4M61.2 229.2H63.4M71.4 212.3V222.3M70.3 212.3H72.5M70.3 222.3H72.5M80.5 199.1V209.1M79.4 199.1H81.6M79.4 209.1H81.6M89.8 212.7V222.7M88.7 212.7H90.9M88.7 222.7H90.9M96.5 208.4V218.4M95.4 208.4H97.6M95.4 218.4H97.6M98.9 200.2V210.2M97.8 200.2H100.0M97.8 210.2H100.0M101.3 211.6V221.6M100.2 211.6H102.4M100.2 221.6H102.4M103.5 217.1V227.1M102.4 217.1H104.6M102.4 227.1H104.6M105.6 212.3V222.3M104.5 212.3H106.7M104.5 222.3H106.7M108.2 216.0V226.0M107.1 216.0H109.3M107.1 226.0H109.3M110.6 231.6V241.6M109.5 231.6H111.7M109.5 241.6H111.7M112.5 235.0V245.0M111.4 235.0H113.6M111.4 245.0H113.6M115.1 245.2V255.2M114.0 245.2H116.2M114.0 255.2H116.2M116.9 251.0V261.0M115.8 251.0H118.0M115.8 261.0H118.0M119.5 252.1V262.1M118.4 252.1H120.6M118.4 262.1H120.6M121.9 269.9V279.9M120.8 269.9H123.0M120.8 279.9H123.0M124.0 273.1V283.1M122.9 273.1H125.1M122.9 283.1H125.1M126.8 267.7V277.7M125.7 267.7H127.9M125.7 277.7H127.9M129.0 271.0V281.0M127.9 271.0H130.1M127.9 281.0H130.1M131.6 266.2V276.2M130.5 266.2H132.7M130.5 276.2H132.7M133.8 266.2V276.2M132.7 266.2H134.9M132.7 276.2H134.9M135.9 275.3V285.3M134.8 275.3H137.0M134.8 285.3H137.0M138.1 268.8V278.8M137.0 268.8H139.2M137.0 278.8H139.2M140.3 277.5V287.5M139.2 277.5H141.4M139.2 287.5H141.4M142.8 267.1V277.1M141.7 267.1H143.9M141.7 277.1H143.9M145.0 277.5V287.5M143.9 277.5H146.1M143.9 287.5H146.1M147.2 272.1V282.1M146.1 272.1H148.3M146.1 282.1H148.3M149.3 284.0V294.0M148.2 284.0H150.4M148.2 294.0H150.4M151.5 274.2V284.2M150.4 274.2H152.6M150.4 284.2H152.6M153.7 280.7V290.7M152.6 280.7H154.8M152.6 290.7H154.8M156.5 286.1V296.1M155.4 286.1H157.6M155.4 296.1H157.6M158.2 285.7V295.7M157.1 285.7H159.3M157.1 295.7H159.3M161.1 281.0V291.0M160.0 281.0H162.2M160.0 291.0H162.2M163.2 282.0V292.0M162.1 282.0H164.3M162.1 292.0H164.3M167.6 287.2V297.2M166.5 287.2H168.7M166.5 297.2H168.7M172.3 284.6V294.6M171.2 284.6H173.4M171.2 294.6H173.4M176.6 295.0V305.0M175.5 295.0H177.7M175.5 305.0H177.7M181.4 272.3V282.3M180.3 272.3H182.5M180.3 282.3H182.5M186.0 277.7V287.7M184.9 277.7H187.1M184.9 287.7H187.1M190.7 277.1V287.1M189.6 277.1H191.8M189.6 287.1H191.8M195.3 286.8V296.8M194.2 286.8H196.4M194.2 296.8H196.4M200.0 284.2V294.2M198.9 284.2H201.1M198.9 294.2H201.1M204.4 291.6V301.6M203.3 291.6H205.5M203.3 301.6H205.5M208.7 279.9V289.9M207.6 279.9H209.8M207.6 289.9H209.8M213.4 273.2V283.2M212.3 273.2H214.5M212.3 283.2H214.5M218.2 282.0V292.0M217.1 282.0H219.3M217.1 292.0H219.3M222.7 280.7V290.7M221.6 280.7H223.8M221.6 290.7H223.8M227.4 282.4V292.4M226.3 282.4H228.5M226.3 292.4H228.5M231.8 294.5V304.5M230.7 294.5H232.9M230.7 304.5H232.9M236.6 293.6V303.6M235.5 293.6H237.7M235.5 303.6H237.7M241.2 286.4V296.4M240.1 286.4H242.3M240.1 296.4H242.3M245.6 285.3V295.3M244.5 285.3H246.7M244.5 295.3H246.7M250.2 300.8V310.8M249.1 300.8H251.3M249.1 310.8H251.3M255.0 286.9V296.9M253.9 286.9H256.1M253.9 296.9H256.1M277.7 302.5V312.5M276.6 302.5H278.8M276.6 312.5H278.8M300.7 289.3V299.3M299.6 289.3H301.8M299.6 299.3H301.8M323.4 303.2V313.2M322.3 303.2H324.5M322.3 313.2H324.5M346.6 288.4V298.4M345.5 288.4H347.7M345.5 298.4H347.7M369.5 287.1V297.1M368.4 287.1H370.6M368.4 297.1H370.6M392.4 286.4V296.4M391.3 286.4H393.5M391.3 296.4H393.5M415.5 293.6V303.6M414.4 293.6H416.6M414.4 303.6H416.6M438.6 287.6V297.6M437.5 287.6H439.7M437.5 297.6H439.7" stroke="#9024a6" stroke-width="1" stroke-opacity="0.8" fill="none"/><g fill="#9024a6"><circle cx="62.5" cy="224.4" r="2.1"/><circle cx="71.6" cy="217.5" r="2.1"/><circle cx="80.7" cy="204.3" r="2.1"/><circle cx="90.0" cy="217.9" r="2.1"/><circle cx="96.7" cy="213.6" r="2.1"/><circle cx="99.1" cy="205.4" r="2.1"/><circle cx="101.5" cy="216.8" r="2.1"/><circle cx="103.7" cy="222.3" r="2.1"/><circle cx="105.8" cy="217.5" r="2.1"/><circle cx="108.4" cy="221.2" r="2.1"/><circle cx="110.8" cy="236.8" r="2.1"/><circle cx="112.7" cy="240.2" r="2.1"/><circle cx="115.3" cy="250.4" r="2.1"/><circle cx="117.1" cy="256.2" r="2.1"/><circle cx="119.7" cy="257.3" r="2.1"/><circle cx="122.1" cy="275.1" r="2.1"/><circle cx="124.2" cy="278.3" r="2.1"/><circle cx="127.0" cy="272.9" r="2.1"/><circle cx="129.2" cy="276.2" r="2.1"/><circle cx="131.8" cy="271.4" r="2.1"/><circle cx="134.0" cy="271.4" r="2.1"/><circle cx="136.1" cy="280.5" r="2.1"/><circle cx="138.3" cy="274.0" r="2.1"/><circle cx="140.5" cy="282.7" r="2.1"/><circle cx="143.0" cy="272.3" r="2.1"/><circle cx="145.2" cy="282.7" r="2.1"/><circle cx="147.4" cy="277.3" r="2.1"/><circle cx="149.5" cy="289.2" r="2.1"/><circle cx="151.7" cy="279.4" r="2.1"/><circle cx="153.9" cy="285.9" r="2.1"/><circle cx="156.7" cy="291.3" r="2.1"/><circle cx="158.4" cy="290.9" r="2.1"/><circle cx="161.3" cy="286.2" r="2.1"/><circle cx="163.4" cy="287.2" r="2.1"/><circle cx="167.8" cy="292.4" r="2.1"/><circle cx="172.5" cy="289.8" r="2.1"/><circle cx="176.8" cy="300.2" r="2.1"/><circle cx="181.6" cy="277.5" r="2.1"/><circle cx="186.2" cy="282.9" r="2.1"/><circle cx="190.9" cy="282.3" r="2.1"/><circle cx="195.5" cy="292.0" r="2.1"/><circle cx="200.2" cy="289.4" r="2.1"/><circle cx="204.6" cy="296.8" r="2.1"/><circle cx="208.9" cy="285.1" r="2.1"/><circle cx="213.6" cy="278.4" r="2.1"/><circle cx="218.4" cy="287.2" r="2.1"/><circle cx="222.9" cy="285.9" r="2.1"/><circle cx="227.6" cy="287.6" r="2.1"/><circle cx="232.0" cy="299.7" r="2.1"/><circle cx="236.8" cy="298.8" r="2.1"/><circle cx="241.4" cy="291.6" r="2.1"/><circle cx="245.8" cy="290.5" r="2.1"/><circle cx="250.4" cy="306.0" r="2.1"/><circle cx="255.2" cy="292.1" r="2.1"/><circle cx="277.9" cy="307.7" r="2.1"/><circle cx="300.9" cy="294.5" r="2.1"/><circle cx="323.6" cy="308.4" r="2.1"/><circle cx="346.8" cy="293.6" r="2.1"/><circle cx="369.7" cy="292.3" r="2.1"/><circle cx="392.6" cy="291.6" r="2.1"/><circle cx="415.7" cy="298.8" r="2.1"/><circle cx="438.8" cy="292.8" r="2.1"/></g><path d="M68.8 258.9V264.9M67.7 258.9H69.9M67.7 264.9H69.9M75.7 261.7V267.7M74.6 261.7H76.8M74.6 267.7H76.8M77.9 263.9V269.9M76.8 263.9H79.0M76.8 269.9H79.0M80.5 258.9V264.9M79.4 258.9H81.6M79.4 264.9H81.6M82.2 263.9V269.9M81.1 263.9H83.3M81.1 269.9H83.3M85.1 257.8V263.8M84.0 257.8H86.2M84.0 263.8H86.2M87.2 256.7V262.7M86.1 256.7H88.3M86.1 262.7H88.3M89.4 259.6V265.6M88.3 259.6H90.5M88.3 265.6H90.5M92.2 265.4V271.4M91.1 265.4H93.3M91.1 271.4H93.3M93.9 268.6V274.6M92.8 268.6H95.0M92.8 274.6H95.0M97.0 263.2V269.2M95.9 263.2H98.1M95.9 269.2H98.1M99.1 262.2V268.2M98.0 262.2H100.2M98.0 268.2H100.2M101.3 266.5V272.5M100.2 266.5H102.4M100.2 272.5H102.4M103.5 261.7V267.7M102.4 261.7H104.6M102.4 267.7H104.6M106.1 269.7V275.7M105.0 269.7H107.2M105.0 275.7H107.2M108.2 270.4V276.4M107.1 270.4H109.3M107.1 276.4H109.3M110.4 281.6V287.6M109.3 281.6H111.5M109.3 287.6H111.5M112.5 292.5V298.5M111.4 292.5H113.6M111.4 298.5H113.6M114.7 300.3V306.3M113.6 300.3H115.8M113.6 306.3H115.8M116.9 313.3V319.3M115.8 313.3H118.0M115.8 319.3H118.0M119.3 309.3V315.3M118.2 309.3H120.4M118.2 315.3H120.4M121.9 319.3V325.3M120.8 319.3H123.0M120.8 325.3H123.0M124.0 311.2V317.2M122.9 311.2H125.1M122.9 317.2H125.1M126.2 317.1V323.1M125.1 317.1H127.3M125.1 323.1H127.3M128.3 309.3V315.3M127.2 309.3H129.4M127.2 315.3H129.4M131.2 318.4V324.4M130.1 318.4H132.3M130.1 324.4H132.3M133.3 324.3V330.3M132.2 324.3H134.4M132.2 330.3H134.4M135.5 317.4V323.4M134.4 317.4H136.6M134.4 323.4H136.6M137.9 324.1V330.1M136.8 324.1H139.0M136.8 330.1H139.0M140.0 323.6V329.6M138.9 323.6H141.1M138.9 329.6H141.1M142.4 325.5V331.5M141.3 325.5H143.5M141.3 331.5H143.5M146.5 324.6V330.6M145.4 324.6H147.6M145.4 330.6H147.6M151.5 333.1V339.1M150.4 333.1H152.6M150.4 339.1H152.6M155.8 327.7V333.7M154.7 327.7H156.9M154.7 333.7H156.9M160.4 328.6V334.6M159.3 328.6H161.5M159.3 334.6H161.5M164.7 330.8V336.8M163.6 330.8H165.8M163.6 336.8H165.8M169.7 339.0V345.0M168.6 339.0H170.8M168.6 345.0H170.8M174.5 337.3V343.3M173.4 337.3H175.6M173.4 343.3H175.6M178.8 339.0V345.0M177.7 339.0H179.9M177.7 345.0H179.9M183.1 331.9V337.9M182.0 331.9H184.2M182.0 337.9H184.2M187.9 334.5V340.5M186.8 334.5H189.0M186.8 340.5H189.0M192.4 327.6V333.6M191.3 327.6H193.5M191.3 333.6H193.5M197.2 331.2V337.2M196.1 331.2H198.3M196.1 337.2H198.3M201.5 339.5V345.5M200.4 339.5H202.6M200.4 345.5H202.6M206.3 338.0V344.0M205.2 338.0H207.4M205.2 344.0H207.4M210.8 342.1V348.1M209.7 342.1H211.9M209.7 348.1H211.9M215.6 339.9V345.9M214.5 339.9H216.7M214.5 345.9H216.7M220.4 336.7V342.7M219.3 336.7H221.5M219.3 342.7H221.5M224.9 343.8V349.8M223.8 343.8H226.0M223.8 349.8H226.0M229.7 351.8V357.8M228.6 351.8H230.8M228.6 357.8H230.8M234.0 341.4V347.4M232.9 341.4H235.1M232.9 347.4H235.1M256.8 340.2V346.2M255.7 340.2H257.9M255.7 346.2H257.9M279.5 349.3V355.3M278.4 349.3H280.6M278.4 355.3H280.6M302.7 350.4V356.4M301.6 350.4H303.8M301.6 356.4H303.8M325.7 352.7V358.7M324.6 352.7H326.8M324.6 358.7H326.8M348.4 355.6V361.6M347.3 355.6H349.5M347.3 361.6H349.5M371.4 356.3V362.3M370.3 356.3H372.5M370.3 362.3H372.5M394.0 351.5V357.5M392.9 351.5H395.1M392.9 357.5H395.1M417.1 364.6V370.6M416.0 364.6H418.2M416.0 370.6H418.2M440.0 362.2V368.2M438.9 362.2H441.1M438.9 368.2H441.1" stroke="#b33822" stroke-width="1" stroke-opacity="0.8" fill="none"/><g fill="#b33822"><circle cx="69.0" cy="262.1" r="2.1"/><circle cx="75.9" cy="264.9" r="2.1"/><circle cx="78.1" cy="267.1" r="2.1"/><circle cx="80.7" cy="262.1" r="2.1"/><circle cx="82.4" cy="267.1" r="2.1"/><circle cx="85.3" cy="261.0" r="2.1"/><circle cx="87.4" cy="259.9" r="2.1"/><circle cx="89.6" cy="262.8" r="2.1"/><circle cx="92.4" cy="268.6" r="2.1"/><circle cx="94.1" cy="271.8" r="2.1"/><circle cx="97.2" cy="266.4" r="2.1"/><circle cx="99.3" cy="265.4" r="2.1"/><circle cx="101.5" cy="269.7" r="2.1"/><circle cx="103.7" cy="264.9" r="2.1"/><circle cx="106.3" cy="272.9" r="2.1"/><circle cx="108.4" cy="273.6" r="2.1"/><circle cx="110.6" cy="284.8" r="2.1"/><circle cx="112.7" cy="295.7" r="2.1"/><circle cx="114.9" cy="303.5" r="2.1"/><circle cx="117.1" cy="316.5" r="2.1"/><circle cx="119.5" cy="312.5" r="2.1"/><circle cx="122.1" cy="322.5" r="2.1"/><circle cx="124.2" cy="314.4" r="2.1"/><circle cx="126.4" cy="320.3" r="2.1"/><circle cx="128.5" cy="312.5" r="2.1"/><circle cx="131.4" cy="321.6" r="2.1"/><circle cx="133.5" cy="327.5" r="2.1"/><circle cx="135.7" cy="320.6" r="2.1"/><circle cx="138.1" cy="327.3" r="2.1"/><circle cx="140.2" cy="326.8" r="2.1"/><circle cx="142.6" cy="328.7" r="2.1"/><circle cx="146.7" cy="327.8" r="2.1"/><circle cx="151.7" cy="336.3" r="2.1"/><circle cx="156.0" cy="330.9" r="2.1"/><circle cx="160.6" cy="331.8" r="2.1"/><circle cx="164.9" cy="334.0" r="2.1"/><circle cx="169.9" cy="342.2" r="2.1"/><circle cx="174.7" cy="340.5" r="2.1"/><circle cx="179.0" cy="342.2" r="2.1"/><circle cx="183.3" cy="335.1" r="2.1"/><circle cx="188.1" cy="337.7" r="2.1"/><circle cx="192.6" cy="330.8" r="2.1"/><circle cx="197.4" cy="334.4" r="2.1"/><circle cx="201.7" cy="342.7" r="2.1"/><circle cx="206.5" cy="341.2" r="2.1"/><circle cx="211.0" cy="345.3" r="2.1"/><circle cx="215.8" cy="343.1" r="2.1"/><circle cx="220.6" cy="339.9" r="2.1"/><circle cx="225.1" cy="347.0" r="2.1"/><circle cx="229.9" cy="355.0" r="2.1"/><circle cx="234.2" cy="344.6" r="2.1"/><circle cx="257.0" cy="343.4" r="2.1"/><circle cx="279.7" cy="352.5" r="2.1"/><circle cx="302.9" cy="353.6" r="2.1"/><circle cx="325.9" cy="355.9" r="2.1"/><circle cx="348.6" cy="358.8" r="2.1"/><circle cx="371.6" cy="359.5" r="2.1"/><circle cx="394.2" cy="354.7" r="2.1"/><circle cx="417.3" cy="367.8" r="2.1"/><circle cx="440.2" cy="365.4" r="2.1"/></g><path d="M69.9 299.0V316.0M68.8 299.0H71.0M68.8 316.0H71.0M78.6 309.0V326.0M77.5 309.0H79.7M77.5 326.0H79.7M87.9 314.8V331.8M86.8 314.8H89.0M86.8 331.8H89.0M95.2 306.2V323.2M94.1 306.2H96.3M94.1 323.2H96.3M97.0 297.5V314.5M95.9 297.5H98.1M95.9 314.5H98.1M99.6 309.4V326.4M98.5 309.4H100.7M98.5 326.4H100.7M101.3 314.8V331.8M100.2 314.8H102.4M100.2 331.8H102.4M103.9 315.3V332.3M102.8 315.3H105.0M102.8 332.3H105.0M106.1 315.6V332.6M105.0 315.6H107.2M105.0 332.6H107.2M110.0 331.5V348.5M108.9 331.5H111.1M108.9 348.5H111.1M108.9 339.1V356.1M107.8 339.1H110.0M107.8 356.1H110.0M113.2 355.7V372.7M112.1 355.7H114.3M112.1 372.7H114.3M115.4 361.2V378.2M114.3 361.2H116.5M114.3 378.2H116.5M118.6 372.5V389.5M117.5 372.5H119.7M117.5 389.5H119.7M120.3 374.2V391.2M119.2 374.2H121.4M119.2 391.2H121.4M122.5 380.0V397.0M121.4 380.0H123.6M121.4 397.0H123.6M125.1 390.9V407.9M124.0 390.9H126.2M124.0 407.9H126.2M127.3 398.9V415.9M126.2 398.9H128.4M126.2 415.9H128.4M129.0 400.6V417.6M127.9 400.6H130.1M127.9 417.6H130.1M131.6 380.0V397.0M130.5 380.0H132.7M130.5 397.0H132.7M133.8 396.7V413.7M132.7 396.7H134.9M132.7 413.7H134.9M135.9 396.7V413.7M134.8 396.7H137.0M134.8 413.7H137.0M139.2 376.8V393.8M138.1 376.8H140.3M138.1 393.8H140.3M141.3 383.7V400.7M140.2 383.7H142.4M140.2 400.7H142.4M142.8 379.4V396.4M141.7 379.4H143.9M141.7 396.4H143.9M145.7 389.8V406.8M144.6 389.8H146.8M144.6 406.8H146.8M147.2 398.0V415.0M146.1 398.0H148.3M146.1 415.0H148.3M150.0 384.4V401.4M148.9 384.4H151.1M148.9 401.4H151.1M152.6 398.0V415.0M151.5 398.0H153.7M151.5 415.0H153.7M154.8 401.7V418.7M153.7 401.7H155.9M153.7 418.7H155.9M156.9 393.7V410.7M155.8 393.7H158.0M155.8 410.7H158.0M158.9 383.6V400.6M157.8 383.6H160.0M157.8 400.6H160.0M161.5 401.1V418.1M160.4 401.1H162.6M160.4 418.1H162.6M165.8 405.4V422.4M164.7 405.4H166.9M164.7 422.4H166.9M170.2 381.0V398.0M169.1 381.0H171.3M169.1 398.0H171.3M174.9 424.7V441.7M173.8 424.7H176.0M173.8 441.7H176.0M179.9 406.5V423.5M178.8 406.5H181.0M178.8 423.5H181.0M184.2 410.9V427.9M183.1 410.9H185.3M183.1 427.9H185.3M189.0 396.6V413.6M187.9 396.6H190.1M187.9 413.6H190.1M193.3 394.6V411.6M192.2 394.6H194.4M192.2 411.6H194.4M198.3 403.3V420.3M197.2 403.3H199.4M197.2 420.3H199.4M202.6 396.1V413.1M201.5 396.1H203.7M201.5 413.1H203.7M207.0 401.1V418.1M205.9 401.1H208.1M205.9 418.1H208.1M211.7 405.4V422.4M210.6 405.4H212.8M210.6 422.4H212.8M216.3 413.0V430.0M215.2 413.0H217.4M215.2 430.0H217.4M221.0 395.0V412.0M219.9 395.0H222.1M219.9 412.0H222.1M225.3 403.3V420.3M224.2 403.3H226.4M224.2 420.3H226.4M230.1 404.8V421.8M229.0 404.8H231.2M229.0 421.8H231.2M234.7 381.4V398.4M233.6 381.4H235.8M233.6 398.4H235.8M239.4 417.3V434.3M238.3 417.3H240.5M238.3 434.3H240.5M243.7 400.9V417.9M242.6 400.9H244.8M242.6 417.9H244.8M248.5 428.0V445.0M247.4 428.0H249.6M247.4 445.0H249.6M253.3 407.4V424.4M252.2 407.4H254.4M252.2 424.4H254.4M276.1 412.2V429.2M275.0 412.2H277.2M275.0 429.2H277.2M298.9 404.7V421.7M297.8 404.7H300.0M297.8 421.7H300.0M322.0 414.5V431.5M320.9 414.5H323.1M320.9 431.5H323.1M345.0 437.2V454.2M343.9 437.2H346.1M343.9 454.2H346.1M367.4 413.9V430.9M366.3 413.9H368.5M366.3 430.9H368.5M390.5 416.7V433.7M389.4 416.7H391.6M389.4 433.7H391.6M413.6 409.8V426.8M412.5 409.8H414.7M412.5 426.8H414.7M436.9 428.9V445.9M435.8 428.9H438.0M435.8 445.9H438.0" stroke="#80a22a" stroke-width="1" stroke-opacity="0.8" fill="none"/><g fill="#80a22a"><circle cx="70.1" cy="307.7" r="2.1"/><circle cx="78.8" cy="317.7" r="2.1"/><circle cx="88.1" cy="323.5" r="2.1"/><circle cx="95.4" cy="314.9" r="2.1"/><circle cx="97.2" cy="306.2" r="2.1"/><circle cx="99.8" cy="318.1" r="2.1"/><circle cx="101.5" cy="323.5" r="2.1"/><circle cx="104.1" cy="324.0" r="2.1"/><circle cx="106.3" cy="324.3" r="2.1"/><circle cx="110.2" cy="340.2" r="2.1"/><circle cx="109.1" cy="347.8" r="2.1"/><circle cx="113.4" cy="364.4" r="2.1"/><circle cx="115.6" cy="369.9" r="2.1"/><circle cx="118.8" cy="381.2" r="2.1"/><circle cx="120.5" cy="382.9" r="2.1"/><circle cx="122.7" cy="388.7" r="2.1"/><circle cx="125.3" cy="399.6" r="2.1"/><circle cx="127.5" cy="407.6" r="2.1"/><circle cx="129.2" cy="409.3" r="2.1"/><circle cx="131.8" cy="388.7" r="2.1"/><circle cx="134.0" cy="405.4" r="2.1"/><circle cx="136.1" cy="405.4" r="2.1"/><circle cx="139.4" cy="385.5" r="2.1"/><circle cx="141.5" cy="392.4" r="2.1"/><circle cx="143.0" cy="388.1" r="2.1"/><circle cx="145.9" cy="398.5" r="2.1"/><circle cx="147.4" cy="406.7" r="2.1"/><circle cx="150.2" cy="393.1" r="2.1"/><circle cx="152.8" cy="406.7" r="2.1"/><circle cx="155.0" cy="410.4" r="2.1"/><circle cx="157.1" cy="402.4" r="2.1"/><circle cx="159.1" cy="392.3" r="2.1"/><circle cx="161.7" cy="409.8" r="2.1"/><circle cx="166.0" cy="414.1" r="2.1"/><circle cx="170.4" cy="389.7" r="2.1"/><circle cx="175.1" cy="433.4" r="2.1"/><circle cx="180.1" cy="415.2" r="2.1"/><circle cx="184.4" cy="419.6" r="2.1"/><circle cx="189.2" cy="405.3" r="2.1"/><circle cx="193.5" cy="403.3" r="2.1"/><circle cx="198.5" cy="412.0" r="2.1"/><circle cx="202.8" cy="404.8" r="2.1"/><circle cx="207.2" cy="409.8" r="2.1"/><circle cx="211.9" cy="414.1" r="2.1"/><circle cx="216.5" cy="421.7" r="2.1"/><circle cx="221.2" cy="403.7" r="2.1"/><circle cx="225.5" cy="412.0" r="2.1"/><circle cx="230.3" cy="413.5" r="2.1"/><circle cx="234.9" cy="390.1" r="2.1"/><circle cx="239.6" cy="426.0" r="2.1"/><circle cx="243.9" cy="409.6" r="2.1"/><circle cx="248.7" cy="436.7" r="2.1"/><circle cx="253.5" cy="416.1" r="2.1"/><circle cx="276.3" cy="420.9" r="2.1"/><circle cx="299.1" cy="413.4" r="2.1"/><circle cx="322.2" cy="423.2" r="2.1"/><circle cx="345.2" cy="445.9" r="2.1"/><circle cx="367.6" cy="422.6" r="2.1"/><circle cx="390.7" cy="425.4" r="2.1"/><circle cx="413.8" cy="418.5" r="2.1"/><circle cx="437.1" cy="437.6" r="2.1"/></g><path d="M61.9 367.0V378.0M60.8 367.0H63.0M60.8 378.0H63.0M71.0 359.9V370.9M69.9 359.9H72.1M69.9 370.9H72.1M79.6 374.4V385.4M78.5 374.4H80.7M78.5 385.4H80.7M86.6 369.0V380.0M85.5 369.0H87.7M85.5 380.0H87.7M89.4 369.4V380.4M88.3 369.4H90.5M88.3 380.4H90.5M91.1 339.7V350.7M90.0 339.7H92.2M90.0 350.7H92.2M93.3 358.2V369.2M92.2 358.2H94.4M92.2 369.2H94.4M96.5 369.0V380.0M95.4 369.0H97.6M95.4 380.0H97.6M98.7 371.8V382.8M97.6 371.8H99.8M97.6 382.8H99.8M100.2 375.5V386.5M99.1 375.5H101.3M99.1 386.5H101.3M102.4 375.0V386.0M101.3 375.0H103.5M101.3 386.0H103.5M104.5 372.2V383.2M103.4 372.2H105.6M103.4 383.2H105.6M107.4 376.6V387.6M106.3 376.6H108.5M106.3 387.6H108.5M109.3 402.1V413.1M108.2 402.1H110.4M108.2 413.1H110.4M112.1 409.7V420.7M111.0 409.7H113.2M111.0 420.7H113.2M114.0 418.6V429.6M112.9 418.6H115.1M112.9 429.6H115.1M116.4 435.5V446.5M115.3 435.5H117.5M115.3 446.5H117.5M119.0 454.1V465.1M117.9 454.1H120.1M117.9 465.1H120.1M121.2 457.8V468.8M120.1 457.8H122.3M120.1 468.8H122.3M123.6 448.0V459.0M122.5 448.0H124.7M122.5 459.0H124.7M125.5 462.6V473.6M124.4 462.6H126.6M124.4 473.6H126.6M128.3 470.3V481.3M127.2 470.3H129.4M127.2 481.3H129.4M130.5 460.4V471.4M129.4 460.4H131.6M129.4 471.4H131.6M132.7 473.4V484.4M131.6 473.4H133.8M131.6 484.4H133.8M134.8 460.4V471.4M133.7 460.4H135.9M133.7 471.4H135.9M137.0 475.5V486.5M135.9 475.5H138.1M135.9 486.5H138.1M139.6 453.0V464.0M138.5 453.0H140.7M138.5 464.0H140.7M142.0 473.4V484.4M140.9 473.4H143.1M140.9 484.4H143.1M144.6 466.9V477.9M143.5 466.9H145.7M143.5 477.9H145.7M146.7 469.0V480.0M145.6 469.0H147.8M145.6 480.0H147.8M148.9 472.5V483.5M147.8 472.5H150.0M147.8 483.5H150.0M151.1 469.7V480.7M150.0 469.7H152.2M150.0 480.7H152.2M153.2 459.5V470.5M152.1 459.5H154.3M152.1 470.5H154.3M157.4 462.8V473.8M156.3 462.8H158.5M156.3 473.8H158.5M162.6 464.5V475.5M161.5 464.5H163.7M161.5 475.5H163.7M166.9 468.2V479.2M165.8 468.2H168.0M165.8 479.2H168.0M171.7 463.9V474.9M170.6 463.9H172.8M170.6 474.9H172.8M176.0 472.6V483.6M174.9 472.6H177.1M174.9 483.6H177.1M180.5 481.2V492.2M179.4 481.2H181.6M179.4 492.2H181.6M185.3 479.3V490.3M184.2 479.3H186.4M184.2 490.3H186.4M189.6 478.0V489.0M188.5 478.0H190.7M188.5 489.0H190.7M194.4 476.9V487.9M193.3 476.9H195.5M193.3 487.9H195.5M198.9 468.2V479.2M197.8 468.2H200.0M197.8 479.2H200.0M203.7 487.3V498.3M202.6 487.3H204.8M202.6 498.3H204.8M208.0 474.3V485.3M206.9 474.3H209.1M206.9 485.3H209.1M212.8 482.3V493.3M211.7 482.3H213.9M211.7 493.3H213.9M217.3 485.1V496.1M216.2 485.1H218.4M216.2 496.1H218.4M222.1 485.8V496.8M221.0 485.8H223.2M221.0 496.8H223.2M226.4 489.9V500.9M225.3 489.9H227.5M225.3 500.9H227.5M230.8 471.5V482.5M229.7 471.5H231.9M229.7 482.5H231.9M235.5 482.5V493.5M234.4 482.5H236.6M234.4 493.5H236.6M240.5 478.0V489.0M239.4 478.0H241.6M239.4 489.0H241.6M244.8 484.0V495.0M243.7 484.0H245.9M243.7 495.0H245.9M267.5 487.8V498.8M266.4 487.8H268.6M266.4 498.8H268.6M290.9 482.5V493.5M289.8 482.5H292.0M289.8 493.5H292.0M313.6 498.6V509.6M312.5 498.6H314.7M312.5 509.6H314.7M336.4 485.2V496.2M335.3 485.2H337.5M335.3 496.2H337.5M359.3 494.4V505.4M358.2 494.4H360.4M358.2 505.4H360.4M381.9 487.1V498.1M380.8 487.1H383.0M380.8 498.1H383.0M405.3 488.7V499.7M404.2 488.7H406.4M404.2 499.7H406.4M428.1 484.6V495.6M427.0 484.6H429.2M427.0 495.6H429.2M451.0 476.1V487.1M449.9 476.1H452.1M449.9 487.1H452.1" stroke="#239d6c" stroke-width="1" stroke-opacity="0.8" fill="none"/><g fill="#239d6c"><circle cx="62.1" cy="372.7" r="2.1"/><circle cx="71.2" cy="365.6" r="2.1"/><circle cx="79.8" cy="380.1" r="2.1"/><circle cx="86.8" cy="374.7" r="2.1"/><circle cx="89.6" cy="375.1" r="2.1"/><circle cx="91.3" cy="345.4" r="2.1"/><circle cx="93.5" cy="363.9" r="2.1"/><circle cx="96.7" cy="374.7" r="2.1"/><circle cx="98.9" cy="377.5" r="2.1"/><circle cx="100.4" cy="381.2" r="2.1"/><circle cx="102.6" cy="380.7" r="2.1"/><circle cx="104.7" cy="377.9" r="2.1"/><circle cx="107.6" cy="382.3" r="2.1"/><circle cx="109.5" cy="407.8" r="2.1"/><circle cx="112.3" cy="415.4" r="2.1"/><circle cx="114.2" cy="424.3" r="2.1"/><circle cx="116.6" cy="441.2" r="2.1"/><circle cx="119.2" cy="459.8" r="2.1"/><circle cx="121.4" cy="463.5" r="2.1"/><circle cx="123.8" cy="453.7" r="2.1"/><circle cx="125.7" cy="468.3" r="2.1"/><circle cx="128.5" cy="476.0" r="2.1"/><circle cx="130.7" cy="466.1" r="2.1"/><circle cx="132.9" cy="479.1" r="2.1"/><circle cx="135.0" cy="466.1" r="2.1"/><circle cx="137.2" cy="481.2" r="2.1"/><circle cx="139.8" cy="458.7" r="2.1"/><circle cx="142.2" cy="479.1" r="2.1"/><circle cx="144.8" cy="472.6" r="2.1"/><circle cx="146.9" cy="474.7" r="2.1"/><circle cx="149.1" cy="478.2" r="2.1"/><circle cx="151.3" cy="475.4" r="2.1"/><circle cx="153.4" cy="465.2" r="2.1"/><circle cx="157.6" cy="468.5" r="2.1"/><circle cx="162.8" cy="470.2" r="2.1"/><circle cx="167.1" cy="473.9" r="2.1"/><circle cx="171.9" cy="469.6" r="2.1"/><circle cx="176.2" cy="478.3" r="2.1"/><circle cx="180.7" cy="486.9" r="2.1"/><circle cx="185.5" cy="485.0" r="2.1"/><circle cx="189.8" cy="483.7" r="2.1"/><circle cx="194.6" cy="482.6" r="2.1"/><circle cx="199.1" cy="473.9" r="2.1"/><circle cx="203.9" cy="493.0" r="2.1"/><circle cx="208.2" cy="480.0" r="2.1"/><circle cx="213.0" cy="488.0" r="2.1"/><circle cx="217.5" cy="490.8" r="2.1"/><circle cx="222.3" cy="491.5" r="2.1"/><circle cx="226.6" cy="495.6" r="2.1"/><circle cx="231.0" cy="477.2" r="2.1"/><circle cx="235.7" cy="488.2" r="2.1"/><circle cx="240.7" cy="483.7" r="2.1"/><circle cx="245.0" cy="489.7" r="2.1"/><circle cx="267.7" cy="493.5" r="2.1"/><circle cx="291.1" cy="488.2" r="2.1"/><circle cx="313.8" cy="504.3" r="2.1"/><circle cx="336.6" cy="490.9" r="2.1"/><circle cx="359.5" cy="500.1" r="2.1"/><circle cx="382.1" cy="492.8" r="2.1"/><circle cx="405.5" cy="494.4" r="2.1"/><circle cx="428.3" cy="490.3" r="2.1"/><circle cx="451.2" cy="481.8" r="2.1"/></g></g><rect x="61.4" y="10.4" width="394" height="510" fill="none" stroke="#7a7a7a" stroke-width="1.1"/><path d="M61.40 520.4V516" stroke="#555" stroke-width="1.1"/><path d="M107.20 520.4V516" stroke="#555" stroke-width="1.1"/><path d="M153.00 520.4V516" stroke="#555" stroke-width="1.1"/><path d="M198.80 520.4V516" stroke="#555" stroke-width="1.1"/><path d="M244.60 520.4V516" stroke="#555" stroke-width="1.1"/><path d="M290.40 520.4V516" stroke="#555" stroke-width="1.1"/><path d="M336.20 520.4V516" stroke="#555" stroke-width="1.1"/><path d="M382.00 520.4V516" stroke="#555" stroke-width="1.1"/><path d="M427.80 520.4V516" stroke="#555" stroke-width="1.1"/><path d="M61.4 469.40H65.8" stroke="#555" stroke-width="1.1"/><path d="M61.4 418.40H65.8" stroke="#555" stroke-width="1.1"/><path d="M61.4 367.40H65.8" stroke="#555" stroke-width="1.1"/><path d="M61.4 316.40H65.8" stroke="#555" stroke-width="1.1"/><path d="M61.4 265.40H65.8" stroke="#555" stroke-width="1.1"/><path d="M61.4 214.40H65.8" stroke="#555" stroke-width="1.1"/><path d="M61.4 163.40H65.8" stroke="#555" stroke-width="1.1"/><polygon points="304.2,25.7 327.7,58.2 295.2,81.7 271.7,49.2" fill="#f5abab" fill-opacity="0.85" stroke="#e87878" stroke-width="0.8"/><polygon points="350.9,25.7 383.4,49.2 359.9,81.7 327.4,58.2" fill="#f5abab" fill-opacity="0.85" stroke="#e87878" stroke-width="0.8"/><polygon points="415.6,25.7 439.1,58.2 406.6,81.7 383.1,49.2" fill="#f5abab" fill-opacity="0.85" stroke="#e87878" stroke-width="0.8"/><polygon points="295.2,81.4 327.7,104.9 304.2,137.4 271.7,113.9" fill="#f5abab" fill-opacity="0.85" stroke="#e87878" stroke-width="0.8"/><polygon points="359.9,81.4 383.4,113.9 350.9,137.4 327.4,104.9" fill="#f5abab" fill-opacity="0.85" stroke="#e87878" stroke-width="0.8"/><polygon points="406.6,81.4 439.1,104.9 415.6,137.4 383.1,113.9" fill="#f5abab" fill-opacity="0.85" stroke="#e87878" stroke-width="0.8"/><polyline points="327.6,25.7 271.9,81.4 327.6,137.1 383.3,81.4 327.6,25.7" fill="none" stroke="#3a3a3a" stroke-width="0.9"/><path d="M299.7 53.7H355.4V109.4H299.7Z" fill="none" stroke="#555" stroke-width="1" stroke-dasharray="3,2.2"/><path d="M299.7 53.7L304.2 25.7M299.7 53.7L327.7 58.2M299.7 53.7L295.2 81.7M299.7 53.7L271.7 49.2" stroke="#e85a5a" stroke-width="0.8" fill="none"/><path d="M355.4 53.7L350.9 25.7M355.4 53.7L383.4 49.2M355.4 53.7L359.9 81.7M355.4 53.7L327.4 58.2" stroke="#e85a5a" stroke-width="0.8" fill="none"/><path d="M411.1 53.7L415.6 25.7M411.1 53.7L439.1 58.2M411.1 53.7L406.6 81.7M411.1 53.7L383.1 49.2" stroke="#e85a5a" stroke-width="0.8" fill="none"/><path d="M299.7 109.4L295.2 81.4M299.7 109.4L327.7 104.9M299.7 109.4L304.2 137.4M299.7 109.4L271.7 113.9" stroke="#e85a5a" stroke-width="0.8" fill="none"/><path d="M355.4 109.4L359.9 81.4M355.4 109.4L383.4 113.9M355.4 109.4L350.9 137.4M355.4 109.4L327.4 104.9" stroke="#e85a5a" stroke-width="0.8" fill="none"/><path d="M411.1 109.4L406.6 81.4M411.1 109.4L439.1 104.9M411.1 109.4L415.6 137.4M411.1 109.4L383.1 113.9" stroke="#e85a5a" stroke-width="0.8" fill="none"/><path d="M218 53.7H299.7" stroke="#333" stroke-width="1"/><path d="M218.4 40.2L299.7 53.7" stroke="#e86868" stroke-width="1"/><path d="M228.3 53.5V46" stroke="#e87070" stroke-width="2.8"/><path d="M223.8 47.5L228.3 40.8L232.8 47.5Z" fill="#e87070"/><circle cx="271.9" cy="25.7" r="8.1" fill="url(#tg)"/><circle cx="327.6" cy="25.7" r="8.1" fill="url(#tg)"/><circle cx="383.3" cy="25.7" r="8.1" fill="url(#tg)"/><circle cx="439.0" cy="25.7" r="8.1" fill="url(#tg)"/><circle cx="271.9" cy="81.4" r="8.1" fill="url(#tg)"/><circle cx="327.6" cy="81.4" r="8.1" fill="url(#tg)"/><circle cx="383.3" cy="81.4" r="8.1" fill="url(#tg)"/><circle cx="439.0" cy="81.4" r="8.1" fill="url(#tg)"/><circle cx="271.9" cy="137.1" r="8.1" fill="url(#tg)"/><circle cx="327.6" cy="137.1" r="8.1" fill="url(#tg)"/><circle cx="383.3" cy="137.1" r="8.1" fill="url(#tg)"/><circle cx="439.0" cy="137.1" r="8.1" fill="url(#tg)"/><circle cx="299.7" cy="53.7" r="5.6" fill="url(#bg)" fill-opacity="0.88"/><circle cx="355.4" cy="53.7" r="5.6" fill="url(#bg)" fill-opacity="0.88"/><circle cx="411.1" cy="53.7" r="5.6" fill="url(#bg)" fill-opacity="0.88"/><circle cx="299.7" cy="109.4" r="5.6" fill="url(#bg)" fill-opacity="0.88"/><circle cx="355.4" cy="109.4" r="5.6" fill="url(#bg)" fill-opacity="0.88"/><circle cx="411.1" cy="109.4" r="5.6" fill="url(#bg)" fill-opacity="0.88"/><circle cx="271.7" cy="49.2" r="2.3" fill="url(#og)"/><circle cx="271.7" cy="113.9" r="2.3" fill="url(#og)"/><circle cx="295.2" cy="81.4" r="2.3" fill="url(#og)"/><circle cx="295.2" cy="81.7" r="2.3" fill="url(#og)"/><circle cx="299.7" cy="53.7" r="2.2" fill="url(#og)"/><circle cx="299.7" cy="109.4" r="2.2" fill="url(#og)"/><circle cx="304.2" cy="25.7" r="2.3" fill="url(#og)"/><circle cx="304.2" cy="137.4" r="2.3" fill="url(#og)"/><circle cx="327.4" cy="58.2" r="2.3" fill="url(#og)"/><circle cx="327.4" cy="104.9" r="2.3" fill="url(#og)"/><circle cx="327.7" cy="58.2" r="2.3" fill="url(#og)"/><circle cx="327.7" cy="104.9" r="2.3" fill="url(#og)"/><circle cx="350.9" cy="25.7" r="2.3" fill="url(#og)"/><circle cx="350.9" cy="137.4" r="2.3" fill="url(#og)"/><circle cx="355.4" cy="53.7" r="2.2" fill="url(#og)"/><circle cx="355.4" cy="109.4" r="2.2" fill="url(#og)"/><circle cx="359.9" cy="81.4" r="2.3" fill="url(#og)"/><circle cx="359.9" cy="81.7" r="2.3" fill="url(#og)"/><circle cx="383.1" cy="49.2" r="2.3" fill="url(#og)"/><circle cx="383.1" cy="113.9" r="2.3" fill="url(#og)"/><circle cx="383.4" cy="49.2" r="2.3" fill="url(#og)"/><circle cx="383.4" cy="113.9" r="2.3" fill="url(#og)"/><circle cx="406.6" cy="81.4" r="2.3" fill="url(#og)"/><circle cx="406.6" cy="81.7" r="2.3" fill="url(#og)"/><circle cx="411.1" cy="53.7" r="2.2" fill="url(#og)"/><circle cx="411.1" cy="109.4" r="2.2" fill="url(#og)"/><circle cx="415.6" cy="25.7" r="2.3" fill="url(#og)"/><circle cx="415.6" cy="137.4" r="2.3" fill="url(#og)"/><circle cx="439.1" cy="58.2" r="2.3" fill="url(#og)"/><circle cx="439.1" cy="104.9" r="2.3" fill="url(#og)"/><text x="222.0" y="67.5" font-family="Liberation Serif" font-size="18" fill="#262626">φ</text><text x="57.8" y="169.7" font-family="Liberation Sans, sans-serif" font-size="16" fill="#262626" text-anchor="end" textLength="24.5" lengthAdjust="spacingAndGlyphs">1.8</text><text x="57.8" y="220.7" font-family="Liberation Sans, sans-serif" font-size="16" fill="#262626" text-anchor="end" textLength="24.5" lengthAdjust="spacingAndGlyphs">1.6</text><text x="57.8" y="271.7" font-family="Liberation Sans, sans-serif" font-size="16" fill="#262626" text-anchor="end" textLength="24.5" lengthAdjust="spacingAndGlyphs">1.4</text><text x="57.8" y="322.7" font-family="Liberation Sans, sans-serif" font-size="16" fill="#262626" text-anchor="end" textLength="24.5" lengthAdjust="spacingAndGlyphs">1.2</text><text x="57.8" y="373.7" font-family="Liberation Sans, sans-serif" font-size="16" fill="#262626" text-anchor="end" textLength="24.5" lengthAdjust="spacingAndGlyphs">1.0</text><text x="57.8" y="424.7" font-family="Liberation Sans, sans-serif" font-size="16" fill="#262626" text-anchor="end" textLength="24.5" lengthAdjust="spacingAndGlyphs">0.8</text><text x="57.8" y="475.7" font-family="Liberation Sans, sans-serif" font-size="16" fill="#262626" text-anchor="end" textLength="24.5" lengthAdjust="spacingAndGlyphs">0.6</text><text x="61.6" y="536.1" font-family="Liberation Sans, sans-serif" font-size="16" fill="#262626" text-anchor="middle" textLength="21" lengthAdjust="spacingAndGlyphs">−1</text><text x="107.2" y="536.1" font-family="Liberation Sans, sans-serif" font-size="16" fill="#262626" text-anchor="middle">0</text><text x="153.0" y="536.1" font-family="Liberation Sans, sans-serif" font-size="16" fill="#262626" text-anchor="middle">1</text><text x="198.8" y="536.1" font-family="Liberation Sans, sans-serif" font-size="16" fill="#262626" text-anchor="middle">2</text><text x="244.6" y="536.1" font-family="Liberation Sans, sans-serif" font-size="16" fill="#262626" text-anchor="middle">3</text><text x="290.4" y="536.1" font-family="Liberation Sans, sans-serif" font-size="16" fill="#262626" text-anchor="middle">4</text><text x="336.2" y="536.1" font-family="Liberation Sans, sans-serif" font-size="16" fill="#262626" text-anchor="middle">5</text><text x="382.0" y="536.1" font-family="Liberation Sans, sans-serif" font-size="16" fill="#262626" text-anchor="middle">6</text><text x="427.8" y="536.1" font-family="Liberation Sans, sans-serif" font-size="16" fill="#262626" text-anchor="middle">7</text><text x="258.9" y="554.7" font-family="Liberation Sans, sans-serif" font-size="16" fill="#262626" text-anchor="middle" textLength="124" lengthAdjust="spacingAndGlyphs">Delay time (ps)</text><text transform="translate(24.0,265.3) rotate(-90)" font-family="Liberation Sans, sans-serif" font-size="16" fill="#262626" text-anchor="middle" textLength="125.6" lengthAdjust="spacingAndGlyphs"><tspan font-style="italic">I</tspan><tspan font-style="italic" font-size="11.5" dy="3.2">p</tspan><tspan dy="-3.2">/</tspan><tspan font-style="italic">I</tspan> (1.5 0.5 0.5)</text><text x="67.6" y="513.4" font-family="Liberation Sans, sans-serif" font-size="21" fill="#262626" textLength="24.8" lengthAdjust="spacingAndGlyphs">(a)</text><text x="74.6" y="38.9" font-family="Liberation Sans, sans-serif" font-size="16" fill="#262626" textLength="85" lengthAdjust="spacingAndGlyphs">Φ (mJ/cm<tspan font-size="10.5" dy="-5.8">2</tspan><tspan dy="5.8">)</tspan></text><path d="M100.7 46.0V61.0M99.5 46.0H101.9M99.5 61.0H101.9" stroke="#2443a8" stroke-width="1" stroke-opacity="0.7"/><circle cx="100.7" cy="53.5" r="2.3" fill="#2443a8"/><text x="115.2" y="58.2" font-family="Liberation Sans, sans-serif" font-size="16.3" fill="#262626" textLength="22.5" lengthAdjust="spacingAndGlyphs">3.3</text><path d="M100.7 64.6V79.6M99.5 64.6H101.9M99.5 79.6H101.9" stroke="#9024a6" stroke-width="1" stroke-opacity="0.7"/><circle cx="100.7" cy="72.1" r="2.3" fill="#9024a6"/><text x="115.2" y="76.8" font-family="Liberation Sans, sans-serif" font-size="16.3" fill="#262626" textLength="22.5" lengthAdjust="spacingAndGlyphs">6.6</text><path d="M100.7 83.2V98.2M99.5 83.2H101.9M99.5 98.2H101.9" stroke="#b33822" stroke-width="1" stroke-opacity="0.7"/><circle cx="100.7" cy="90.7" r="2.3" fill="#b33822"/><text x="115.2" y="95.4" font-family="Liberation Sans, sans-serif" font-size="16.3" fill="#262626" textLength="22.5" lengthAdjust="spacingAndGlyphs">7.1</text><path d="M100.7 101.8V116.8M99.5 101.8H101.9M99.5 116.8H101.9" stroke="#80a22a" stroke-width="1" stroke-opacity="0.7"/><circle cx="100.7" cy="109.3" r="2.3" fill="#80a22a"/><text x="115.2" y="114.0" font-family="Liberation Sans, sans-serif" font-size="16.3" fill="#262626" textLength="30.0" lengthAdjust="spacingAndGlyphs">11.2</text><path d="M100.7 120.4V135.4M99.5 120.4H101.9M99.5 135.4H101.9" stroke="#239d6c" stroke-width="1" stroke-opacity="0.7"/><circle cx="100.7" cy="127.9" r="2.3" fill="#239d6c"/><text x="115.2" y="132.6" font-family="Liberation Sans, sans-serif" font-size="16.3" fill="#262626" textLength="30.0" lengthAdjust="spacingAndGlyphs">12.3</text><g clip-path="url(#cb)"><path d="M64.5 674.0H351.6" stroke="#6a6a6a" stroke-width="1.5" stroke-dasharray="3.6,2.1"/><polyline points="64.3,584.9 65.2,591.1 66.1,597.0 67.0,602.8 67.9,608.4 68.8,613.9 69.7,619.3 70.6,624.4 71.5,629.4 72.4,634.3 73.2,639.1 74.1,643.6 75.0,648.1 75.9,652.4 76.8,656.6 77.7,660.6 78.6,664.5 79.5,668.3 80.4,671.9 81.3,675.5 82.2,678.9 83.1,682.2 84.0,685.3 84.9,688.4 85.8,691.3 86.7,694.1 87.6,696.8 88.5,699.4 89.4,701.9 90.3,704.3 91.2,706.5 92.1,708.7 93.0,710.8 93.9,712.8 94.8,714.7 95.7,716.5 96.6,718.2 97.5,719.8 98.4,721.3 99.3,722.7 100.2,724.1 101.1,725.4 102.0,726.6 102.9,727.7 103.7,728.7 104.6,729.7 105.5,730.5 106.4,731.4 107.3,732.1 108.2,732.8 109.1,733.4 110.0,733.9 110.9,734.4 111.8,734.8 112.7,735.2 113.6,735.5 114.5,735.7 115.4,735.9 116.3,736.0 117.2,736.1 118.1,736.1 119.0,736.1 119.9,736.0 120.8,735.9 121.7,735.7 122.6,735.5 123.5,735.3 124.4,735.0 125.3,734.7 126.2,734.3 127.1,733.9 128.0,733.4 128.9,733.0 129.8,732.5 130.7,731.9 131.6,731.3 132.5,730.7 133.3,730.1 134.2,729.5 135.1,728.8 136.0,728.1 136.9,727.3 137.8,726.6 138.7,725.8 139.6,725.0 140.5,724.2 141.4,723.4 142.3,722.6 143.2,721.7 144.1,720.8 145.0,720.0 145.9,719.1 146.8,718.2 147.7,717.3 148.6,716.3 149.5,715.4 150.4,714.5 151.3,713.5 152.2,712.6 153.1,711.6 154.0,710.7 154.9,709.7 155.8,708.8 156.7,707.8 157.6,706.9 158.5,705.9 159.4,704.9 160.3,704.0 161.2,703.1 162.1,702.1 163.0,701.2 163.8,700.3 164.7,699.3 165.6,698.4 166.5,697.5 167.4,696.6 168.3,695.7 169.2,694.8 170.1,694.0 171.0,693.1 171.9,692.3 172.8,691.5 173.7,690.6 174.6,689.8 175.5,689.1 176.4,688.3 177.3,687.5 178.2,686.8 179.1,686.1 180.0,685.4 180.9,684.7 181.8,684.0 182.7,683.4 183.6,682.7 184.5,682.1 185.4,681.5 186.3,681.0 187.2,680.4 188.1,679.9 189.0,679.4 189.9,678.9 190.8,678.4 191.7,678.0 192.6,677.5 193.4,677.1 194.3,676.8 195.2,676.4 196.1,676.1 197.0,675.8 197.9,675.5 198.8,675.2 199.7,675.0 200.6,674.8 201.5,674.6 202.4,674.4 203.3,674.3 204.2,674.2 205.1,674.1 206.0,674.0 206.9,674.0 207.8,674.0 208.7,674.0 209.6,674.0 210.5,674.1 211.4,674.2 212.3,674.3 213.2,674.4 214.1,674.6 215.0,674.8 215.9,675.0 216.8,675.2 217.7,675.5 218.6,675.8 219.5,676.1 220.4,676.4 221.3,676.8 222.2,677.1 223.0,677.5 223.9,678.0 224.8,678.4 225.7,678.9 226.6,679.4 227.5,679.9 228.4,680.4 229.3,681.0 230.2,681.5 231.1,682.1 232.0,682.7 232.9,683.4 233.8,684.0 234.7,684.7 235.6,685.4 236.5,686.1 237.4,686.8 238.3,687.5 239.2,688.3 240.1,689.1 241.0,689.8 241.9,690.6 242.8,691.5 243.7,692.3 244.6,693.1 245.5,694.0 246.4,694.8 247.3,695.7 248.2,696.6 249.1,697.5 250.0,698.4 250.9,699.3 251.8,700.3 252.7,701.2 253.5,702.1 254.4,703.1 255.3,704.0 256.2,704.9 257.1,705.9 258.0,706.9 258.9,707.8 259.8,708.8 260.7,709.7 261.6,710.7 262.5,711.6 263.4,712.6 264.3,713.5 265.2,714.5 266.1,715.4 267.0,716.3 267.9,717.3 268.8,718.2 269.7,719.1 270.6,720.0 271.5,720.8 272.4,721.7 273.3,722.6 274.2,723.4 275.1,724.2 276.0,725.0 276.9,725.8 277.8,726.6 278.7,727.3 279.6,728.1 280.5,728.8 281.4,729.5 282.3,730.1 283.1,730.7 284.0,731.3 284.9,731.9 285.8,732.5 286.7,733.0 287.6,733.4 288.5,733.9 289.4,734.3 290.3,734.7 291.2,735.0 292.1,735.3 293.0,735.5 293.9,735.7 294.8,735.9 295.7,736.0 296.6,736.1 297.5,736.1 298.4,736.1 299.3,736.0 300.2,735.9 301.1,735.7 302.0,735.5 302.9,735.2 303.8,734.8 304.7,734.4 305.6,733.9 306.5,733.4 307.4,732.8 308.3,732.1 309.2,731.4 310.1,730.5 311.0,729.7 311.9,728.7 312.7,727.7 313.6,726.6 314.5,725.4 315.4,724.1 316.3,722.7 317.2,721.3 318.1,719.8 319.0,718.2 319.9,716.5 320.8,714.7 321.7,712.8 322.6,710.8 323.5,708.7 324.4,706.5 325.3,704.3 326.2,701.9 327.1,699.4 328.0,696.8 328.9,694.1 329.8,691.3 330.7,688.4 331.6,685.3 332.5,682.2 333.4,678.9 334.3,675.5 335.2,671.9 336.1,668.3 337.0,664.5 337.9,660.6 338.8,656.6 339.7,652.4 340.6,648.1 341.5,643.6 342.4,639.1 343.2,634.3 344.1,629.4 345.0,624.4 345.9,619.3 346.8,613.9 347.7,608.4 348.6,602.8 349.5,597.0 350.4,591.1 351.3,584.9" fill="none" stroke="#b41e30" stroke-width="1.5"/><polyline points="64.3,562.4 65.2,566.6 66.1,571.6 67.0,576.4 67.9,581.1 68.8,585.6 69.7,590.1 70.6,594.4 71.5,598.6 72.4,602.7 73.2,606.7 74.1,610.6 75.0,614.3 75.9,618.0 76.8,621.5 77.7,625.0 78.6,628.3 79.5,631.6 80.4,634.7 81.3,637.8 82.2,640.7 83.1,643.6 84.0,646.4 84.9,649.0 85.8,651.6 86.7,654.1 87.6,656.6 88.5,658.9 89.4,661.2 90.3,663.3 91.2,665.4 92.1,667.4 93.0,669.4 93.9,671.3 94.8,673.1 95.7,674.8 96.6,676.4 97.5,678.0 98.4,679.5 99.3,681.0 100.2,682.4 101.1,683.7 102.0,685.0 102.9,686.2 103.7,687.3 104.6,688.4 105.5,689.4 106.4,690.4 107.3,691.3 108.2,692.2 109.1,693.0 110.0,693.8 110.9,694.5 111.8,695.2 112.7,695.8 113.6,696.4 114.5,697.0 115.4,697.5 116.3,697.9 117.2,698.3 118.1,698.7 119.0,699.0 119.9,699.3 120.8,699.6 121.7,699.8 122.6,700.0 123.5,700.2 124.4,700.3 125.3,700.4 126.2,700.5 127.1,700.5 128.0,700.5 128.9,700.5 129.8,700.5 130.7,700.4 131.6,700.3 132.5,700.2 133.3,700.1 134.2,699.9 135.1,699.7 136.0,699.5 136.9,699.3 137.8,699.1 138.7,698.8 139.6,698.5 140.5,698.2 141.4,697.9 142.3,697.6 143.2,697.3 144.1,697.0 145.0,696.6 145.9,696.2 146.8,695.9 147.7,695.5 148.6,695.1 149.5,694.7 150.4,694.3 151.3,693.8 152.2,693.4 153.1,693.0 154.0,692.5 154.9,692.1 155.8,691.6 156.7,691.2 157.6,690.7 158.5,690.3 159.4,689.8 160.3,689.4 161.2,688.9 162.1,688.5 163.0,688.0 163.8,687.5 164.7,687.1 165.6,686.6 166.5,686.2 167.4,685.7 168.3,685.3 169.2,684.9 170.1,684.4 171.0,684.0 171.9,683.6 172.8,683.1 173.7,682.7 174.6,682.3 175.5,681.9 176.4,681.5 177.3,681.1 178.2,680.7 179.1,680.4 180.0,680.0 180.9,679.6 181.8,679.3 182.7,678.9 183.6,678.6 184.5,678.3 185.4,678.0 186.3,677.7 187.2,677.4 188.1,677.1 189.0,676.8 189.9,676.6 190.8,676.3 191.7,676.1 192.6,675.9 193.4,675.7 194.3,675.5 195.2,675.3 196.1,675.1 197.0,674.9 197.9,674.8 198.8,674.7 199.7,674.5 200.6,674.4 201.5,674.3 202.4,674.2 203.3,674.2 204.2,674.1 205.1,674.1 206.0,674.0 206.9,674.0 207.8,674.0 208.7,674.0 209.6,674.0 210.5,674.1 211.4,674.1 212.3,674.2 213.2,674.2 214.1,674.3 215.0,674.4 215.9,674.5 216.8,674.7 217.7,674.8 218.6,674.9 219.5,675.1 220.4,675.3 221.3,675.5 222.2,675.7 223.0,675.9 223.9,676.1 224.8,676.3 225.7,676.6 226.6,676.8 227.5,677.1 228.4,677.4 229.3,677.7 230.2,678.0 231.1,678.3 232.0,678.6 232.9,678.9 233.8,679.3 234.7,679.6 235.6,680.0 236.5,680.4 237.4,680.7 238.3,681.1 239.2,681.5 240.1,681.9 241.0,682.3 241.9,682.7 242.8,683.1 243.7,683.6 244.6,684.0 245.5,684.4 246.4,684.9 247.3,685.3 248.2,685.7 249.1,686.2 250.0,686.6 250.9,687.1 251.8,687.5 252.7,688.0 253.5,688.5 254.4,688.9 255.3,689.4 256.2,689.8 257.1,690.3 258.0,690.7 258.9,691.2 259.8,691.6 260.7,692.1 261.6,692.5 262.5,693.0 263.4,693.4 264.3,693.8 265.2,694.3 266.1,694.7 267.0,695.1 267.9,695.5 268.8,695.9 269.7,696.2 270.6,696.6 271.5,697.0 272.4,697.3 273.3,697.6 274.2,697.9 275.1,698.2 276.0,698.5 276.9,698.8 277.8,699.1 278.7,699.3 279.6,699.5 280.5,699.7 281.4,699.9 282.3,700.1 283.1,700.2 284.0,700.3 284.9,700.4 285.8,700.5 286.7,700.5 287.6,700.5 288.5,700.5 289.4,700.5 290.3,700.4 291.2,700.3 292.1,700.2 293.0,700.0 293.9,699.8 294.8,699.6 295.7,699.3 296.6,699.0 297.5,698.7 298.4,698.3 299.3,697.9 300.2,697.5 301.1,697.0 302.0,696.4 302.9,695.8 303.8,695.2 304.7,694.5 305.6,693.8 306.5,693.0 307.4,692.2 308.3,691.3 309.2,690.4 310.1,689.4 311.0,688.4 311.9,687.3 312.7,686.2 313.6,685.0 314.5,683.7 315.4,682.4 316.3,681.0 317.2,679.5 318.1,678.0 319.0,676.4 319.9,674.8 320.8,673.1 321.7,671.3 322.6,669.4 323.5,667.4 324.4,665.4 325.3,663.3 326.2,661.2 327.1,658.9 328.0,656.6 328.9,654.1 329.8,651.6 330.7,649.0 331.6,646.4 332.5,643.6 333.4,640.7 334.3,637.8 335.2,634.7 336.1,631.6 337.0,628.3 337.9,625.0 338.8,621.5 339.7,618.0 340.6,614.3 341.5,610.6 342.4,606.7 343.2,602.7 344.1,598.6 345.0,594.4 345.9,590.1 346.8,585.6 347.7,581.1 348.6,576.4 349.5,571.6 350.4,566.6 351.3,562.4" fill="none" stroke="#ea8c4a" stroke-width="1.5"/><polyline points="64.3,562.4 65.2,562.4 66.1,562.4 67.0,562.4 67.9,562.4 68.8,562.4 69.7,562.4 70.6,562.4 71.5,562.4 72.4,562.4 73.2,562.4 74.1,562.4 75.0,562.4 75.9,562.4 76.8,562.4 77.7,562.4 78.6,562.4 79.5,562.4 80.4,562.4 81.3,562.4 82.2,562.4 83.1,562.4 84.0,562.4 84.9,562.4 85.8,562.4 86.7,565.1 87.6,569.7 88.5,574.2 89.4,578.5 90.3,582.6 91.2,586.6 92.1,590.4 93.0,594.1 93.9,597.7 94.8,601.1 95.7,604.4 96.6,607.6 97.5,610.6 98.4,613.5 99.3,616.4 100.2,619.0 101.1,621.6 102.0,624.1 102.9,626.5 103.7,628.8 104.6,631.0 105.5,633.1 106.4,635.1 107.3,637.0 108.2,638.9 109.1,640.6 110.0,642.3 110.9,643.9 111.8,645.5 112.7,647.0 113.6,648.4 114.5,649.7 115.4,651.0 116.3,652.2 117.2,653.4 118.1,654.5 119.0,655.6 119.9,656.6 120.8,657.6 121.7,658.5 122.6,659.3 123.5,660.2 124.4,661.0 125.3,661.7 126.2,662.4 127.1,663.1 128.0,663.7 128.9,664.3 129.8,664.9 130.7,665.5 131.6,666.0 132.5,666.5 133.3,666.9 134.2,667.4 135.1,667.8 136.0,668.2 136.9,668.5 137.8,668.9 138.7,669.2 139.6,669.5 140.5,669.8 141.4,670.1 142.3,670.3 143.2,670.6 144.1,670.8 145.0,671.0 145.9,671.2 146.8,671.4 147.7,671.6 148.6,671.7 149.5,671.9 150.4,672.0 151.3,672.2 152.2,672.3 153.1,672.4 154.0,672.5 154.9,672.6 155.8,672.7 156.7,672.8 157.6,672.9 158.5,673.0 159.4,673.0 160.3,673.1 161.2,673.2 162.1,673.2 163.0,673.3 163.8,673.3 164.7,673.4 165.6,673.4 166.5,673.5 167.4,673.5 168.3,673.5 169.2,673.6 170.1,673.6 171.0,673.6 171.9,673.7 172.8,673.7 173.7,673.7 174.6,673.7 175.5,673.7 176.4,673.8 177.3,673.8 178.2,673.8 179.1,673.8 180.0,673.8 180.9,673.8 181.8,673.9 182.7,673.9 183.6,673.9 184.5,673.9 185.4,673.9 186.3,673.9 187.2,673.9 188.1,673.9 189.0,673.9 189.9,673.9 190.8,673.9 191.7,673.9 192.6,674.0 193.4,674.0 194.3,674.0 195.2,674.0 196.1,674.0 197.0,674.0 197.9,674.0 198.8,674.0 199.7,674.0 200.6,674.0 201.5,674.0 202.4,674.0 203.3,674.0 204.2,674.0 205.1,674.0 206.0,674.0 206.9,674.0 207.8,674.0 208.7,674.0 209.6,674.0 210.5,674.0 211.4,674.0 212.3,674.0 213.2,674.0 214.1,674.0 215.0,674.0 215.9,674.0 216.8,674.0 217.7,674.0 218.6,674.0 219.5,674.0 220.4,674.0 221.3,674.0 222.2,674.0 223.0,674.0 223.9,673.9 224.8,673.9 225.7,673.9 226.6,673.9 227.5,673.9 228.4,673.9 229.3,673.9 230.2,673.9 231.1,673.9 232.0,673.9 232.9,673.9 233.8,673.9 234.7,673.8 235.6,673.8 236.5,673.8 237.4,673.8 238.3,673.8 239.2,673.8 240.1,673.7 241.0,673.7 241.9,673.7 242.8,673.7 243.7,673.7 244.6,673.6 245.5,673.6 246.4,673.6 247.3,673.5 248.2,673.5 249.1,673.5 250.0,673.4 250.9,673.4 251.8,673.3 252.7,673.3 253.5,673.2 254.4,673.2 255.3,673.1 256.2,673.0 257.1,673.0 258.0,672.9 258.9,672.8 259.8,672.7 260.7,672.6 261.6,672.5 262.5,672.4 263.4,672.3 264.3,672.2 265.2,672.0 266.1,671.9 267.0,671.7 267.9,671.6 268.8,671.4 269.7,671.2 270.6,671.0 271.5,670.8 272.4,670.6 273.3,670.3 274.2,670.1 275.1,669.8 276.0,669.5 276.9,669.2 277.8,668.9 278.7,668.5 279.6,668.2 280.5,667.8 281.4,667.4 282.3,666.9 283.1,666.5 284.0,666.0 284.9,665.5 285.8,664.9 286.7,664.3 287.6,663.7 288.5,663.1 289.4,662.4 290.3,661.7 291.2,661.0 292.1,660.2 293.0,659.3 293.9,658.5 294.8,657.6 295.7,656.6 296.6,655.6 297.5,654.5 298.4,653.4 299.3,652.2 300.2,651.0 301.1,649.7 302.0,648.4 302.9,647.0 303.8,645.5 304.7,643.9 305.6,642.3 306.5,640.6 307.4,638.9 308.3,637.0 309.2,635.1 310.1,633.1 311.0,631.0 311.9,628.8 312.7,626.5 313.6,624.1 314.5,621.6 315.4,619.0 316.3,616.4 317.2,613.5 318.1,610.6 319.0,607.6 319.9,604.4 320.8,601.1 321.7,597.7 322.6,594.1 323.5,590.4 324.4,586.6 325.3,582.6 326.2,578.5 327.1,574.2 328.0,569.7 328.9,565.1 329.8,562.4 330.7,562.4 331.6,562.4 332.5,562.4 333.4,562.4 334.3,562.4 335.2,562.4 336.1,562.4 337.0,562.4 337.9,562.4 338.8,562.4 339.7,562.4 340.6,562.4 341.5,562.4 342.4,562.4 343.2,562.4 344.1,562.4 345.0,562.4 345.9,562.4 346.8,562.4 347.7,562.4 348.6,562.4 349.5,562.4 350.4,562.4 351.3,562.4" fill="none" stroke="#dfe98e" stroke-width="1.5"/><polyline points="64.3,562.4 65.2,562.4 66.1,562.4 67.0,562.4 67.9,562.4 68.8,562.4 69.7,562.4 70.6,562.4 71.5,562.4 72.4,562.4 73.2,562.4 74.1,562.4 75.0,562.4 75.9,562.4 76.8,562.4 77.7,562.4 78.6,562.4 79.5,562.4 80.4,562.4 81.3,562.4 82.2,562.4 83.1,562.4 84.0,562.4 84.9,562.4 85.8,562.4 86.7,562.4 87.6,562.4 88.5,562.4 89.4,562.4 90.3,562.4 91.2,562.4 92.1,562.4 93.0,562.4 93.9,562.4 94.8,562.4 95.7,562.4 96.6,562.4 97.5,562.4 98.4,562.4 99.3,562.4 100.2,562.4 101.1,562.4 102.0,562.4 102.9,562.4 103.7,562.4 104.6,562.4 105.5,562.4 106.4,562.4 107.3,562.4 108.2,562.4 109.1,562.4 110.0,562.4 110.9,562.4 111.8,562.4 112.7,562.4 113.6,563.1 114.5,568.1 115.4,572.9 116.3,577.5 117.2,581.9 118.1,586.1 119.0,590.1 119.9,593.9 120.8,597.6 121.7,601.1 122.6,604.5 123.5,607.7 124.4,610.7 125.3,613.6 126.2,616.4 127.1,619.1 128.0,621.6 128.9,624.0 129.8,626.3 130.7,628.5 131.6,630.6 132.5,632.6 133.3,634.5 134.2,636.3 135.1,638.0 136.0,639.6 136.9,641.2 137.8,642.7 138.7,644.1 139.6,645.5 140.5,646.8 141.4,648.0 142.3,649.2 143.2,650.3 144.1,651.3 145.0,652.4 145.9,653.3 146.8,654.2 147.7,655.1 148.6,656.0 149.5,656.8 150.4,657.5 151.3,658.3 152.2,658.9 153.1,659.6 154.0,660.3 154.9,660.9 155.8,661.4 156.7,662.0 157.6,662.5 158.5,663.0 159.4,663.5 160.3,664.0 161.2,664.5 162.1,664.9 163.0,665.3 163.8,665.7 164.7,666.1 165.6,666.5 166.5,666.8 167.4,667.2 168.3,667.5 169.2,667.8 170.1,668.1 171.0,668.4 171.9,668.7 172.8,669.0 173.7,669.2 174.6,669.5 175.5,669.8 176.4,670.0 177.3,670.2 178.2,670.5 179.1,670.7 180.0,670.9 180.9,671.1 181.8,671.3 182.7,671.5 183.6,671.6 184.5,671.8 185.4,672.0 186.3,672.1 187.2,672.3 188.1,672.4 189.0,672.6 189.9,672.7 190.8,672.8 191.7,672.9 192.6,673.1 193.4,673.2 194.3,673.3 195.2,673.4 196.1,673.5 197.0,673.5 197.9,673.6 198.8,673.7 199.7,673.7 200.6,673.8 201.5,673.8 202.4,673.9 203.3,673.9 204.2,673.9 205.1,674.0 206.0,674.0 206.9,674.0 207.8,674.0 208.7,674.0 209.6,674.0 210.5,674.0 211.4,673.9 212.3,673.9 213.2,673.9 214.1,673.8 215.0,673.8 215.9,673.7 216.8,673.7 217.7,673.6 218.6,673.5 219.5,673.5 220.4,673.4 221.3,673.3 222.2,673.2 223.0,673.1 223.9,672.9 224.8,672.8 225.7,672.7 226.6,672.6 227.5,672.4 228.4,672.3 229.3,672.1 230.2,672.0 231.1,671.8 232.0,671.6 232.9,671.5 233.8,671.3 234.7,671.1 235.6,670.9 236.5,670.7 237.4,670.5 238.3,670.2 239.2,670.0 240.1,669.8 241.0,669.5 241.9,669.2 242.8,669.0 243.7,668.7 244.6,668.4 245.5,668.1 246.4,667.8 247.3,667.5 248.2,667.2 249.1,666.8 250.0,666.5 250.9,666.1 251.8,665.7 252.7,665.3 253.5,664.9 254.4,664.5 255.3,664.0 256.2,663.5 257.1,663.0 258.0,662.5 258.9,662.0 259.8,661.4 260.7,660.9 261.6,660.3 262.5,659.6 263.4,658.9 264.3,658.3 265.2,657.5 266.1,656.8 267.0,656.0 267.9,655.1 268.8,654.2 269.7,653.3 270.6,652.4 271.5,651.3 272.4,650.3 273.3,649.2 274.2,648.0 275.1,646.8 276.0,645.5 276.9,644.1 277.8,642.7 278.7,641.2 279.6,639.6 280.5,638.0 281.4,636.3 282.3,634.5 283.1,632.6 284.0,630.6 284.9,628.5 285.8,626.3 286.7,624.0 287.6,621.6 288.5,619.1 289.4,616.4 290.3,613.6 291.2,610.7 292.1,607.7 293.0,604.5 293.9,601.1 294.8,597.6 295.7,593.9 296.6,590.1 297.5,586.1 298.4,581.9 299.3,577.5 300.2,572.9 301.1,568.1 302.0,563.1 302.9,562.4 303.8,562.4 304.7,562.4 305.6,562.4 306.5,562.4 307.4,562.4 308.3,562.4 309.2,562.4 310.1,562.4 311.0,562.4 311.9,562.4 312.7,562.4 313.6,562.4 314.5,562.4 315.4,562.4 316.3,562.4 317.2,562.4 318.1,562.4 319.0,562.4 319.9,562.4 320.8,562.4 321.7,562.4 322.6,562.4 323.5,562.4 324.4,562.4 325.3,562.4 326.2,562.4 327.1,562.4 328.0,562.4 328.9,562.4 329.8,562.4 330.7,562.4 331.6,562.4 332.5,562.4 333.4,562.4 334.3,562.4 335.2,562.4 336.1,562.4 337.0,562.4 337.9,562.4 338.8,562.4 339.7,562.4 340.6,562.4 341.5,562.4 342.4,562.4 343.2,562.4 344.1,562.4 345.0,562.4 345.9,562.4 346.8,562.4 347.7,562.4 348.6,562.4 349.5,562.4 350.4,562.4 351.3,562.4" fill="none" stroke="#33a4cc" stroke-width="1.5"/><polyline points="64.3,562.4 65.2,562.4 66.1,562.4 67.0,562.4 67.9,562.4 68.8,562.4 69.7,562.4 70.6,562.4 71.5,562.4 72.4,562.4 73.2,562.4 74.1,562.4 75.0,562.4 75.9,562.4 76.8,562.4 77.7,562.4 78.6,562.4 79.5,562.4 80.4,562.4 81.3,562.4 82.2,562.4 83.1,562.4 84.0,562.4 84.9,562.4 85.8,562.4 86.7,562.4 87.6,562.4 88.5,562.4 89.4,562.4 90.3,562.4 91.2,562.4 92.1,562.4 93.0,562.4 93.9,562.4 94.8,562.4 95.7,562.4 96.6,562.4 97.5,562.4 98.4,562.4 99.3,562.4 100.2,562.4 101.1,562.4 102.0,562.4 102.9,562.4 103.7,562.4 104.6,562.4 105.5,562.4 106.4,562.4 107.3,562.4 108.2,562.4 109.1,562.4 110.0,562.4 110.9,562.4 111.8,562.4 112.7,562.4 113.6,562.4 114.5,562.4 115.4,562.4 116.3,562.4 117.2,562.4 118.1,562.4 119.0,562.4 119.9,562.4 120.8,562.4 121.7,562.4 122.6,562.4 123.5,562.4 124.4,562.4 125.3,562.4 126.2,562.4 127.1,562.4 128.0,562.4 128.9,564.1 129.8,567.0 130.7,569.9 131.6,572.9 132.5,575.8 133.3,578.8 134.2,581.8 135.1,584.8 136.0,587.7 136.9,590.7 137.8,593.6 138.7,596.5 139.6,599.4 140.5,602.3 141.4,605.1 142.3,607.8 143.2,610.5 144.1,613.2 145.0,615.8 145.9,618.4 146.8,620.9 147.7,623.4 148.6,625.8 149.5,628.1 150.4,630.3 151.3,632.6 152.2,634.7 153.1,636.8 154.0,638.8 154.9,640.7 155.8,642.6 156.7,644.4 157.6,646.1 158.5,647.8 159.4,649.4 160.3,651.0 161.2,652.4 162.1,653.8 163.0,655.2 163.8,656.5 164.7,657.7 165.6,658.9 166.5,660.0 167.4,661.0 168.3,662.0 169.2,663.0 170.1,663.9 171.0,664.7 171.9,665.5 172.8,666.2 173.7,666.9 174.6,667.5 175.5,668.1 176.4,668.7 177.3,669.2 178.2,669.7 179.1,670.1 180.0,670.6 180.9,670.9 181.8,671.3 182.7,671.6 183.6,671.9 184.5,672.1 185.4,672.4 186.3,672.6 187.2,672.8 188.1,672.9 189.0,673.1 189.9,673.2 190.8,673.3 191.7,673.5 192.6,673.5 193.4,673.6 194.3,673.7 195.2,673.7 196.1,673.8 197.0,673.8 197.9,673.9 198.8,673.9 199.7,673.9 200.6,673.9 201.5,674.0 202.4,674.0 203.3,674.0 204.2,674.0 205.1,674.0 206.0,674.0 206.9,674.0 207.8,674.0 208.7,674.0 209.6,674.0 210.5,674.0 211.4,674.0 212.3,674.0 213.2,674.0 214.1,674.0 215.0,673.9 215.9,673.9 216.8,673.9 217.7,673.9 218.6,673.8 219.5,673.8 220.4,673.7 221.3,673.7 222.2,673.6 223.0,673.5 223.9,673.5 224.8,673.3 225.7,673.2 226.6,673.1 227.5,672.9 228.4,672.8 229.3,672.6 230.2,672.4 231.1,672.1 232.0,671.9 232.9,671.6 233.8,671.3 234.7,670.9 235.6,670.6 236.5,670.1 237.4,669.7 238.3,669.2 239.2,668.7 240.1,668.1 241.0,667.5 241.9,666.9 242.8,666.2 243.7,665.5 244.6,664.7 245.5,663.9 246.4,663.0 247.3,662.0 248.2,661.0 249.1,660.0 250.0,658.9 250.9,657.7 251.8,656.5 252.7,655.2 253.5,653.8 254.4,652.4 255.3,651.0 256.2,649.4 257.1,647.8 258.0,646.1 258.9,644.4 259.8,642.6 260.7,640.7 261.6,638.8 262.5,636.8 263.4,634.7 264.3,632.6 265.2,630.3 266.1,628.1 267.0,625.8 267.9,623.4 268.8,620.9 269.7,618.4 270.6,615.8 271.5,613.2 272.4,610.5 273.3,607.8 274.2,605.1 275.1,602.3 276.0,599.4 276.9,596.5 277.8,593.6 278.7,590.7 279.6,587.7 280.5,584.8 281.4,581.8 282.3,578.8 283.1,575.8 284.0,572.9 284.9,569.9 285.8,567.0 286.7,564.1 287.6,562.4 288.5,562.4 289.4,562.4 290.3,562.4 291.2,562.4 292.1,562.4 293.0,562.4 293.9,562.4 294.8,562.4 295.7,562.4 296.6,562.4 297.5,562.4 298.4,562.4 299.3,562.4 300.2,562.4 301.1,562.4 302.0,562.4 302.9,562.4 303.8,562.4 304.7,562.4 305.6,562.4 306.5,562.4 307.4,562.4 308.3,562.4 309.2,562.4 310.1,562.4 311.0,562.4 311.9,562.4 312.7,562.4 313.6,562.4 314.5,562.4 315.4,562.4 316.3,562.4 317.2,562.4 318.1,562.4 319.0,562.4 319.9,562.4 320.8,562.4 321.7,562.4 322.6,562.4 323.5,562.4 324.4,562.4 325.3,562.4 326.2,562.4 327.1,562.4 328.0,562.4 328.9,562.4 329.8,562.4 330.7,562.4 331.6,562.4 332.5,562.4 333.4,562.4 334.3,562.4 335.2,562.4 336.1,562.4 337.0,562.4 337.9,562.4 338.8,562.4 339.7,562.4 340.6,562.4 341.5,562.4 342.4,562.4 343.2,562.4 344.1,562.4 345.0,562.4 345.9,562.4 346.8,562.4 347.7,562.4 348.6,562.4 349.5,562.4 350.4,562.4 351.3,562.4" fill="none" stroke="#20207c" stroke-width="1.5"/></g><path d="M64.5 748V588.6" stroke="#8a8a8a" stroke-width="1.2"/><path d="M64.5 748H351.6V588.6" stroke="#555" stroke-width="1.1" fill="none"/><path d="M64 588.6H352" stroke="#111" stroke-width="1.3"/><path d="M118.1 748V743" stroke="#333" stroke-width="1"/><path d="M207.8 748V743" stroke="#333" stroke-width="1"/><path d="M297.5 748V743" stroke="#333" stroke-width="1"/><path d="M64.5 748.4H69.5" stroke="#333" stroke-width="1"/><path d="M64.5 674.0H69.5" stroke="#333" stroke-width="1"/><path d="M64.5 599.6H69.5" stroke="#333" stroke-width="1"/><text x="60.2" y="606.7" font-family="Liberation Serif, serif" font-size="20" fill="#262626" text-anchor="end">2</text><text x="60.2" y="681.1" font-family="Liberation Serif, serif" font-size="20" fill="#262626" text-anchor="end">0</text><text x="60.2" y="755.5" font-family="Liberation Serif, serif" font-size="20" fill="#262626" text-anchor="end" textLength="24" lengthAdjust="spacingAndGlyphs">−2</text><text x="117.5" y="765.2" font-family="Liberation Serif, serif" font-size="20" fill="#262626" text-anchor="middle" textLength="23.5" lengthAdjust="spacingAndGlyphs">−1</text><text x="207.8" y="765.2" font-family="Liberation Serif, serif" font-size="20" fill="#262626" text-anchor="middle">0</text><text x="297.5" y="765.2" font-family="Liberation Serif, serif" font-size="20" fill="#262626" text-anchor="middle">1</text><text x="208.3" y="784.7" font-family="Liberation Sans, sans-serif" font-size="18" fill="#262626" text-anchor="middle" textLength="37" lengthAdjust="spacingAndGlyphs"><tspan font-style="italic">u</tspan>/<tspan font-style="italic">u</tspan><tspan font-size="12.8" dy="3.9">0</tspan></text><text transform="translate(25.8,667.9) rotate(-90)" font-family="Liberation Sans, sans-serif" font-size="19" fill="#262626" text-anchor="middle" textLength="150" lengthAdjust="spacingAndGlyphs"><tspan font-style="italic">V</tspan>(<tspan font-style="italic">ρ</tspan>, <tspan font-style="italic">u</tspan>) (meV/UC)</text><text x="67.6" y="739.4" font-family="Liberation Sans, sans-serif" font-size="21" fill="#262626" textLength="24.6" lengthAdjust="spacingAndGlyphs">(b)</text><text x="367.2" y="606" font-family="Liberation Serif, serif" font-size="21.5" fill="#262626" textLength="76.5" lengthAdjust="spacingAndGlyphs">ρ(h/UC)</text><path d="M372.4 631.0H396.7" stroke="#b41e30" stroke-width="1.8"/><text x="409.0" y="637.3" font-family="Liberation Serif, serif" font-size="21.3" fill="#262626" textLength="39.8" lengthAdjust="spacingAndGlyphs">0.00</text><path d="M372.4 659.1H396.7" stroke="#ea8c4a" stroke-width="1.8"/><text x="409.0" y="665.4" font-family="Liberation Serif, serif" font-size="21.3" fill="#262626" textLength="39.8" lengthAdjust="spacingAndGlyphs">0.05</text><path d="M372.4 687.2H396.7" stroke="#dfe98e" stroke-width="1.8"/><text x="409.0" y="693.5" font-family="Liberation Serif, serif" font-size="21.3" fill="#262626" textLength="39.8" lengthAdjust="spacingAndGlyphs">0.10</text><path d="M372.4 715.3H396.7" stroke="#33a4cc" stroke-width="1.8"/><text x="409.0" y="721.6" font-family="Liberation Serif, serif" font-size="21.3" fill="#262626" textLength="39.8" lengthAdjust="spacingAndGlyphs">0.15</text><path d="M372.4 743.4H396.7" stroke="#20207c" stroke-width="1.8"/><text x="409.0" y="749.7" font-family="Liberation Serif, serif" font-size="21.3" fill="#262626" textLength="39.8" lengthAdjust="spacingAndGlyphs">0.20</text></svg></body></html>
